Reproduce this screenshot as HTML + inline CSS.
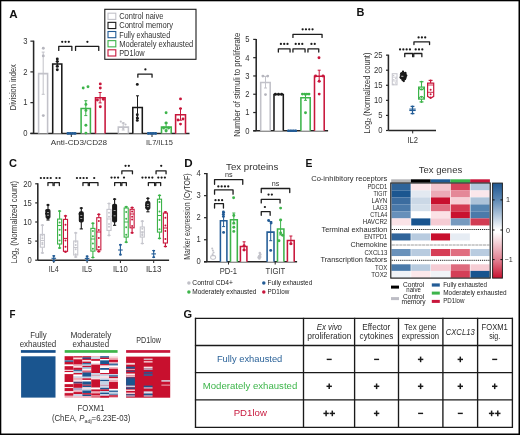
<!DOCTYPE html>
<html><head><meta charset="utf-8"><title>Figure</title>
<style>
html,body{margin:0;padding:0;background:#fff;}
body{width:520px;height:435px;overflow:hidden;}
svg{display:block;font-family:"Liberation Sans", sans-serif;will-change:transform;}
</style></head>
<body>
<svg width="520" height="435" viewBox="0 0 520 435">
<rect x="0.00" y="0.00" width="520.00" height="435.00" fill="#000" stroke="none" stroke-width="1.0" />
<rect x="1.30" y="1.30" width="517.20" height="432.20" fill="white" stroke="none" stroke-width="1.0" />
<text x="9.20" y="18.10" font-size="11.6" text-anchor="start" fill="#111" font-weight="bold" >A</text>
<text x="356.40" y="16.10" font-size="11.6" text-anchor="start" fill="#111" font-weight="bold" textLength="7.90" lengthAdjust="spacingAndGlyphs" >B</text>
<text x="9.00" y="167.40" font-size="11.6" text-anchor="start" fill="#111" font-weight="bold" textLength="8.00" lengthAdjust="spacingAndGlyphs" >C</text>
<text x="184.30" y="166.70" font-size="11.6" text-anchor="start" fill="#111" font-weight="bold" >D</text>
<text x="305.60" y="166.70" font-size="11.6" text-anchor="start" fill="#111" font-weight="bold" textLength="6.90" lengthAdjust="spacingAndGlyphs" >E</text>
<text x="9.40" y="317.90" font-size="11.6" text-anchor="start" fill="#111" font-weight="bold" textLength="6.00" lengthAdjust="spacingAndGlyphs" >F</text>
<text x="183.60" y="317.80" font-size="11.6" text-anchor="start" fill="#111" font-weight="bold" textLength="8.60" lengthAdjust="spacingAndGlyphs" >G</text>
<rect x="104.80" y="9.30" width="91.20" height="50.00" fill="none" stroke="#1a1a1a" stroke-width="1.1" />
<rect x="108.00" y="13.20" width="7.80" height="6.20" fill="none" stroke="#c2c2c9" stroke-width="1.1" />
<text x="119.20" y="19.20" font-size="8.2" text-anchor="start" fill="#333" font-weight="normal" textLength="44.30" lengthAdjust="spacingAndGlyphs" >Control naive</text>
<rect x="108.00" y="22.35" width="7.80" height="6.20" fill="none" stroke="#1a1a1a" stroke-width="1.1" />
<text x="119.20" y="28.35" font-size="8.2" text-anchor="start" fill="#333" font-weight="normal" textLength="53.90" lengthAdjust="spacingAndGlyphs" >Control memory</text>
<rect x="108.00" y="31.50" width="7.80" height="6.20" fill="none" stroke="#235c96" stroke-width="1.1" />
<text x="119.20" y="37.50" font-size="8.2" text-anchor="start" fill="#333" font-weight="normal" textLength="51.00" lengthAdjust="spacingAndGlyphs" >Fully exhausted</text>
<rect x="108.00" y="40.65" width="7.80" height="6.20" fill="none" stroke="#3db44a" stroke-width="1.1" />
<text x="119.20" y="46.65" font-size="8.2" text-anchor="start" fill="#333" font-weight="normal" textLength="74.10" lengthAdjust="spacingAndGlyphs" >Moderately exhausted</text>
<rect x="108.00" y="49.80" width="7.80" height="6.20" fill="none" stroke="#c8163b" stroke-width="1.1" />
<text x="119.20" y="55.80" font-size="8.2" text-anchor="start" fill="#333" font-weight="normal" textLength="25.40" lengthAdjust="spacingAndGlyphs" >PD1low</text>
<line x1="33.60" y1="40.65" x2="33.60" y2="133.40" stroke="#262626" stroke-width="1.55" />
<line x1="30.40" y1="133.40" x2="189.50" y2="133.40" stroke="#262626" stroke-width="1.55" />
<line x1="30.40" y1="133.40" x2="33.60" y2="133.40" stroke="#262626" stroke-width="1.2" />
<text x="27.40" y="136.00" font-size="8.8" text-anchor="end" fill="#333" font-weight="normal" textLength="4.25" lengthAdjust="spacingAndGlyphs" >0</text>
<line x1="30.40" y1="102.65" x2="33.60" y2="102.65" stroke="#262626" stroke-width="1.2" />
<text x="27.40" y="105.25" font-size="8.8" text-anchor="end" fill="#333" font-weight="normal" textLength="4.25" lengthAdjust="spacingAndGlyphs" >1</text>
<line x1="30.40" y1="71.90" x2="33.60" y2="71.90" stroke="#262626" stroke-width="1.2" />
<text x="27.40" y="74.50" font-size="8.8" text-anchor="end" fill="#333" font-weight="normal" textLength="4.25" lengthAdjust="spacingAndGlyphs" >2</text>
<line x1="30.40" y1="41.15" x2="33.60" y2="41.15" stroke="#262626" stroke-width="1.2" />
<text x="27.40" y="43.75" font-size="8.8" text-anchor="end" fill="#333" font-weight="normal" textLength="4.25" lengthAdjust="spacingAndGlyphs" >3</text>
<text transform="translate(13.10,87.20) rotate(-90)" x="0" y="3.01" font-size="8.6" text-anchor="middle" fill="#333" textLength="46.00" lengthAdjust="spacingAndGlyphs" >Division index</text>
<text x="79.00" y="145.40" font-size="8.0" text-anchor="middle" fill="#333" font-weight="normal" textLength="56.30" lengthAdjust="spacingAndGlyphs" >Anti-CD3/CD28</text>
<text x="159.40" y="145.40" font-size="8.0" text-anchor="middle" fill="#333" font-weight="normal" textLength="26.90" lengthAdjust="spacingAndGlyphs" >IL7/IL15</text>
<line x1="71.30" y1="133.40" x2="71.30" y2="137.00" stroke="#262626" stroke-width="1.0" />
<line x1="152.00" y1="133.40" x2="152.00" y2="137.00" stroke="#262626" stroke-width="1.0" />
<path d="M38.60,133.40 V73.60 H47.60 V133.40" fill="white" stroke="#c2c2c9" stroke-width="1.55"/>
<line x1="43.20" y1="52.10" x2="43.20" y2="94.30" stroke="#c2c2c9" stroke-width="1.0" />
<line x1="41.70" y1="52.10" x2="44.70" y2="52.10" stroke="#c2c2c9" stroke-width="1.0" />
<line x1="41.70" y1="94.30" x2="44.70" y2="94.30" stroke="#c2c2c9" stroke-width="1.0" />
<circle cx="43.30" cy="48.30" r="1.45" fill="#b6b6be"/>
<circle cx="43.30" cy="55.90" r="1.45" fill="#b6b6be"/>
<circle cx="43.30" cy="115.60" r="1.45" fill="#b6b6be"/>
<path d="M52.70,133.40 V63.90 H61.80 V133.40" fill="white" stroke="#1a1a1a" stroke-width="1.55"/>
<line x1="57.30" y1="61.60" x2="57.30" y2="66.20" stroke="#1a1a1a" stroke-width="1.0" />
<line x1="55.80" y1="61.60" x2="58.80" y2="61.60" stroke="#1a1a1a" stroke-width="1.0" />
<line x1="55.80" y1="66.20" x2="58.80" y2="66.20" stroke="#1a1a1a" stroke-width="1.0" />
<circle cx="57.30" cy="58.90" r="1.45" fill="#1a1a1a"/>
<circle cx="57.30" cy="61.40" r="1.45" fill="#1a1a1a"/>
<circle cx="57.30" cy="66.40" r="1.45" fill="#1a1a1a"/>
<circle cx="57.30" cy="69.70" r="1.45" fill="#1a1a1a"/>
<line x1="66.70" y1="133.40" x2="76.40" y2="133.40" stroke="#235c96" stroke-width="2.0" />
<circle cx="68.00" cy="133.40" r="1.3" fill="#235c96"/>
<circle cx="70.30" cy="133.40" r="1.3" fill="#235c96"/>
<circle cx="72.60" cy="133.40" r="1.3" fill="#235c96"/>
<circle cx="74.90" cy="133.40" r="1.3" fill="#235c96"/>
<path d="M81.10,133.40 V108.50 H90.40 V133.40" fill="white" stroke="#3db44a" stroke-width="1.55"/>
<line x1="85.80" y1="100.70" x2="85.80" y2="115.60" stroke="#3db44a" stroke-width="1.0" />
<line x1="84.30" y1="100.70" x2="87.30" y2="100.70" stroke="#3db44a" stroke-width="1.0" />
<line x1="84.30" y1="115.60" x2="87.30" y2="115.60" stroke="#3db44a" stroke-width="1.0" />
<circle cx="83.20" cy="88.00" r="1.45" fill="#3db44a"/>
<circle cx="88.00" cy="86.80" r="1.45" fill="#3db44a"/>
<circle cx="85.90" cy="104.40" r="1.45" fill="#3db44a"/>
<circle cx="85.90" cy="110.40" r="1.45" fill="#3db44a"/>
<circle cx="85.90" cy="125.30" r="1.45" fill="#3db44a"/>
<circle cx="85.90" cy="133.10" r="1.45" fill="#3db44a"/>
<path d="M95.50,133.40 V97.70 H105.10 V133.40" fill="white" stroke="#c8163b" stroke-width="1.55"/>
<line x1="100.10" y1="92.50" x2="100.10" y2="102.90" stroke="#c8163b" stroke-width="1.0" />
<line x1="98.60" y1="92.50" x2="101.60" y2="92.50" stroke="#c8163b" stroke-width="1.0" />
<line x1="98.60" y1="102.90" x2="101.60" y2="102.90" stroke="#c8163b" stroke-width="1.0" />
<circle cx="100.30" cy="83.90" r="1.45" fill="#c8163b"/>
<circle cx="100.30" cy="88.00" r="1.45" fill="#c8163b"/>
<circle cx="97.40" cy="100.00" r="1.45" fill="#c8163b"/>
<circle cx="103.30" cy="99.20" r="1.45" fill="#c8163b"/>
<circle cx="100.30" cy="106.70" r="1.45" fill="#c8163b"/>
<path d="M118.30,133.40 V127.10 H128.40 V133.40" fill="white" stroke="#c2c2c9" stroke-width="1.55"/>
<line x1="123.20" y1="123.00" x2="123.20" y2="130.00" stroke="#c2c2c9" stroke-width="1.0" />
<line x1="121.70" y1="123.00" x2="124.70" y2="123.00" stroke="#c2c2c9" stroke-width="1.0" />
<line x1="121.70" y1="130.00" x2="124.70" y2="130.00" stroke="#c2c2c9" stroke-width="1.0" />
<circle cx="120.80" cy="121.60" r="1.1" fill="#c2c2c9"/>
<circle cx="123.30" cy="123.00" r="1.1" fill="#c2c2c9"/>
<circle cx="125.50" cy="124.50" r="1.1" fill="#c2c2c9"/>
<circle cx="123.30" cy="128.50" r="1.1" fill="#c2c2c9"/>
<path d="M132.80,133.40 V107.40 H142.30 V133.40" fill="white" stroke="#1a1a1a" stroke-width="1.55"/>
<line x1="137.50" y1="95.80" x2="137.50" y2="118.40" stroke="#1a1a1a" stroke-width="1.0" />
<line x1="136.00" y1="95.80" x2="139.00" y2="95.80" stroke="#1a1a1a" stroke-width="1.0" />
<line x1="136.00" y1="118.40" x2="139.00" y2="118.40" stroke="#1a1a1a" stroke-width="1.0" />
<circle cx="137.30" cy="84.40" r="1.45" fill="#1a1a1a"/>
<circle cx="137.30" cy="114.80" r="1.45" fill="#1a1a1a"/>
<circle cx="137.30" cy="117.90" r="1.45" fill="#1a1a1a"/>
<circle cx="137.30" cy="120.40" r="1.45" fill="#1a1a1a"/>
<line x1="147.00" y1="133.40" x2="157.00" y2="133.40" stroke="#235c96" stroke-width="2.0" />
<circle cx="148.50" cy="133.40" r="1.3" fill="#235c96"/>
<circle cx="150.80" cy="133.40" r="1.3" fill="#235c96"/>
<circle cx="153.10" cy="133.40" r="1.3" fill="#235c96"/>
<circle cx="155.40" cy="133.40" r="1.3" fill="#235c96"/>
<path d="M161.50,133.40 V127.10 H171.20 V133.40" fill="white" stroke="#3db44a" stroke-width="1.55"/>
<line x1="166.10" y1="123.00" x2="166.10" y2="130.00" stroke="#3db44a" stroke-width="1.0" />
<line x1="164.60" y1="123.00" x2="167.60" y2="123.00" stroke="#3db44a" stroke-width="1.0" />
<line x1="164.60" y1="130.00" x2="167.60" y2="130.00" stroke="#3db44a" stroke-width="1.0" />
<circle cx="166.10" cy="112.70" r="1.45" fill="#3db44a"/>
<circle cx="166.10" cy="123.00" r="1.45" fill="#3db44a"/>
<circle cx="163.60" cy="128.00" r="1.45" fill="#3db44a"/>
<circle cx="168.60" cy="128.00" r="1.45" fill="#3db44a"/>
<circle cx="166.10" cy="131.00" r="1.45" fill="#3db44a"/>
<path d="M175.60,133.40 V114.70 H185.50 V133.40" fill="white" stroke="#c8163b" stroke-width="1.55"/>
<line x1="180.50" y1="108.60" x2="180.50" y2="120.20" stroke="#c8163b" stroke-width="1.0" />
<line x1="179.00" y1="108.60" x2="182.00" y2="108.60" stroke="#c8163b" stroke-width="1.0" />
<line x1="179.00" y1="120.20" x2="182.00" y2="120.20" stroke="#c8163b" stroke-width="1.0" />
<circle cx="180.50" cy="98.90" r="1.45" fill="#c8163b"/>
<circle cx="180.50" cy="108.60" r="1.45" fill="#c8163b"/>
<circle cx="178.00" cy="120.00" r="1.45" fill="#c8163b"/>
<circle cx="183.00" cy="119.00" r="1.45" fill="#c8163b"/>
<circle cx="180.50" cy="124.10" r="1.45" fill="#c8163b"/>
<path d="M58.75,50.40 V46.30 H71.85 V50.40" fill="none" stroke="#1e1e1e" stroke-width="1.3" stroke-linejoin="round" stroke-linecap="round"/>
<circle cx="62.20" cy="41.80" r="1.12" fill="#1a1a1a"/>
<circle cx="65.50" cy="41.80" r="1.12" fill="#1a1a1a"/>
<circle cx="68.80" cy="41.80" r="1.12" fill="#1a1a1a"/>
<path d="M75.55,50.40 V46.30 H98.75 V50.40" fill="none" stroke="#1e1e1e" stroke-width="1.3" stroke-linejoin="round" stroke-linecap="round"/>
<circle cx="87.40" cy="41.80" r="1.12" fill="#1a1a1a"/>
<path d="M137.85,77.20 V74.20 H152.05 V77.20" fill="none" stroke="#1e1e1e" stroke-width="1.3" stroke-linejoin="round" stroke-linecap="round"/>
<circle cx="145.40" cy="69.40" r="1.12" fill="#1a1a1a"/>
<line x1="256.20" y1="38.90" x2="256.20" y2="130.80" stroke="#262626" stroke-width="1.55" />
<line x1="253.20" y1="130.80" x2="328.10" y2="130.80" stroke="#262626" stroke-width="1.55" />
<line x1="253.20" y1="130.80" x2="256.20" y2="130.80" stroke="#262626" stroke-width="1.2" />
<text x="249.50" y="133.65" font-size="8.8" text-anchor="end" fill="#333" font-weight="normal" textLength="4.25" lengthAdjust="spacingAndGlyphs" >0</text>
<line x1="253.20" y1="112.52" x2="256.20" y2="112.52" stroke="#262626" stroke-width="1.2" />
<text x="249.50" y="115.37" font-size="8.8" text-anchor="end" fill="#333" font-weight="normal" textLength="4.25" lengthAdjust="spacingAndGlyphs" >1</text>
<line x1="253.20" y1="94.24" x2="256.20" y2="94.24" stroke="#262626" stroke-width="1.2" />
<text x="249.50" y="97.09" font-size="8.8" text-anchor="end" fill="#333" font-weight="normal" textLength="4.25" lengthAdjust="spacingAndGlyphs" >2</text>
<line x1="253.20" y1="75.96" x2="256.20" y2="75.96" stroke="#262626" stroke-width="1.2" />
<text x="249.50" y="78.81" font-size="8.8" text-anchor="end" fill="#333" font-weight="normal" textLength="4.25" lengthAdjust="spacingAndGlyphs" >3</text>
<line x1="253.20" y1="57.68" x2="256.20" y2="57.68" stroke="#262626" stroke-width="1.2" />
<text x="249.50" y="60.53" font-size="8.8" text-anchor="end" fill="#333" font-weight="normal" textLength="4.25" lengthAdjust="spacingAndGlyphs" >4</text>
<line x1="253.20" y1="39.40" x2="256.20" y2="39.40" stroke="#262626" stroke-width="1.2" />
<text x="249.50" y="42.25" font-size="8.8" text-anchor="end" fill="#333" font-weight="normal" textLength="4.25" lengthAdjust="spacingAndGlyphs" >5</text>
<text transform="translate(236.50,84.80) rotate(-90)" x="0" y="3.01" font-size="8.6" text-anchor="middle" fill="#333" textLength="104.00" lengthAdjust="spacingAndGlyphs" >Number of stimuli to proliferate</text>
<path d="M260.70,130.80 V82.40 H270.20 V130.80" fill="white" stroke="#c2c2c9" stroke-width="1.55"/>
<line x1="265.50" y1="76.40" x2="265.50" y2="88.00" stroke="#c2c2c9" stroke-width="1.0" />
<line x1="264.00" y1="76.40" x2="267.00" y2="76.40" stroke="#c2c2c9" stroke-width="1.0" />
<line x1="264.00" y1="88.00" x2="267.00" y2="88.00" stroke="#c2c2c9" stroke-width="1.0" />
<circle cx="262.90" cy="76.10" r="1.45" fill="#b6b6be"/>
<circle cx="267.70" cy="76.10" r="1.45" fill="#b6b6be"/>
<circle cx="265.50" cy="94.60" r="1.45" fill="#b6b6be"/>
<path d="M274.00,130.80 V94.40 H283.30 V130.80" fill="white" stroke="#1a1a1a" stroke-width="1.55"/>
<circle cx="275.40" cy="94.30" r="1.45" fill="#1a1a1a"/>
<circle cx="278.50" cy="94.30" r="1.45" fill="#1a1a1a"/>
<circle cx="281.60" cy="94.30" r="1.45" fill="#1a1a1a"/>
<line x1="287.30" y1="130.80" x2="297.00" y2="130.80" stroke="#235c96" stroke-width="2.0" />
<circle cx="288.60" cy="130.80" r="1.3" fill="#235c96"/>
<circle cx="290.90" cy="130.80" r="1.3" fill="#235c96"/>
<circle cx="293.20" cy="130.80" r="1.3" fill="#235c96"/>
<circle cx="295.50" cy="130.80" r="1.3" fill="#235c96"/>
<path d="M300.90,130.80 V97.70 H310.20 V130.80" fill="white" stroke="#3db44a" stroke-width="1.55"/>
<line x1="305.50" y1="94.10" x2="305.50" y2="100.30" stroke="#3db44a" stroke-width="1.0" />
<line x1="304.00" y1="94.10" x2="307.00" y2="94.10" stroke="#3db44a" stroke-width="1.0" />
<line x1="304.00" y1="100.30" x2="307.00" y2="100.30" stroke="#3db44a" stroke-width="1.0" />
<circle cx="302.40" cy="94.10" r="1.45" fill="#3db44a"/>
<circle cx="304.60" cy="94.10" r="1.45" fill="#3db44a"/>
<circle cx="306.80" cy="94.10" r="1.45" fill="#3db44a"/>
<circle cx="309.00" cy="94.10" r="1.45" fill="#3db44a"/>
<circle cx="305.50" cy="112.70" r="1.45" fill="#3db44a"/>
<path d="M314.50,130.80 V76.30 H324.20 V130.80" fill="white" stroke="#c8163b" stroke-width="1.55"/>
<line x1="319.20" y1="70.20" x2="319.20" y2="81.60" stroke="#c8163b" stroke-width="1.0" />
<line x1="317.70" y1="70.20" x2="320.70" y2="70.20" stroke="#c8163b" stroke-width="1.0" />
<line x1="317.70" y1="81.60" x2="320.70" y2="81.60" stroke="#c8163b" stroke-width="1.0" />
<circle cx="319.00" cy="57.80" r="1.45" fill="#c8163b"/>
<circle cx="319.20" cy="94.10" r="1.45" fill="#c8163b"/>
<circle cx="315.60" cy="76.00" r="1.45" fill="#c8163b"/>
<circle cx="323.00" cy="76.00" r="1.45" fill="#c8163b"/>
<circle cx="319.20" cy="81.30" r="1.45" fill="#c8163b"/>
<path d="M292.95,37.40 V34.30 H322.05 V37.40" fill="none" stroke="#1e1e1e" stroke-width="1.3" stroke-linejoin="round" stroke-linecap="round"/>
<circle cx="302.65" cy="29.30" r="1.12" fill="#1a1a1a"/>
<circle cx="305.95" cy="29.30" r="1.12" fill="#1a1a1a"/>
<circle cx="309.25" cy="29.30" r="1.12" fill="#1a1a1a"/>
<circle cx="312.55" cy="29.30" r="1.12" fill="#1a1a1a"/>
<path d="M278.35,52.10 V48.80 H290.05 V52.10" fill="none" stroke="#1e1e1e" stroke-width="1.3" stroke-linejoin="round" stroke-linecap="round"/>
<path d="M292.95,52.10 V48.80 H305.05 V52.10" fill="none" stroke="#1e1e1e" stroke-width="1.3" stroke-linejoin="round" stroke-linecap="round"/>
<path d="M307.95,52.10 V48.80 H318.75 V52.10" fill="none" stroke="#1e1e1e" stroke-width="1.3" stroke-linejoin="round" stroke-linecap="round"/>
<circle cx="280.90" cy="43.90" r="1.12" fill="#1a1a1a"/>
<circle cx="284.20" cy="43.90" r="1.12" fill="#1a1a1a"/>
<circle cx="287.50" cy="43.90" r="1.12" fill="#1a1a1a"/>
<circle cx="295.70" cy="43.90" r="1.12" fill="#1a1a1a"/>
<circle cx="299.00" cy="43.90" r="1.12" fill="#1a1a1a"/>
<circle cx="302.30" cy="43.90" r="1.12" fill="#1a1a1a"/>
<circle cx="311.45" cy="43.90" r="1.12" fill="#1a1a1a"/>
<circle cx="314.75" cy="43.90" r="1.12" fill="#1a1a1a"/>
<line x1="388.40" y1="54.65" x2="388.40" y2="130.50" stroke="#262626" stroke-width="1.55" />
<line x1="388.40" y1="130.50" x2="436.00" y2="130.50" stroke="#262626" stroke-width="1.55" />
<line x1="386.00" y1="130.50" x2="388.40" y2="130.50" stroke="#262626" stroke-width="1.2" />
<text x="382.40" y="133.35" font-size="8.8" text-anchor="end" fill="#333" font-weight="normal" textLength="4.25" lengthAdjust="spacingAndGlyphs" >0</text>
<line x1="386.00" y1="115.43" x2="388.40" y2="115.43" stroke="#262626" stroke-width="1.2" />
<text x="382.40" y="118.28" font-size="8.8" text-anchor="end" fill="#333" font-weight="normal" textLength="4.25" lengthAdjust="spacingAndGlyphs" >5</text>
<line x1="386.00" y1="100.36" x2="388.40" y2="100.36" stroke="#262626" stroke-width="1.2" />
<text x="382.40" y="103.21" font-size="8.8" text-anchor="end" fill="#333" font-weight="normal" textLength="8.50" lengthAdjust="spacingAndGlyphs" >10</text>
<line x1="386.00" y1="85.29" x2="388.40" y2="85.29" stroke="#262626" stroke-width="1.2" />
<text x="382.40" y="88.14" font-size="8.8" text-anchor="end" fill="#333" font-weight="normal" textLength="8.50" lengthAdjust="spacingAndGlyphs" >15</text>
<line x1="386.00" y1="70.22" x2="388.40" y2="70.22" stroke="#262626" stroke-width="1.2" />
<text x="382.40" y="73.07" font-size="8.8" text-anchor="end" fill="#333" font-weight="normal" textLength="8.50" lengthAdjust="spacingAndGlyphs" >20</text>
<line x1="386.00" y1="55.15" x2="388.40" y2="55.15" stroke="#262626" stroke-width="1.2" />
<text x="382.40" y="58.00" font-size="8.8" text-anchor="end" fill="#333" font-weight="normal" textLength="8.50" lengthAdjust="spacingAndGlyphs" >25</text>
<line x1="412.70" y1="130.50" x2="412.70" y2="133.40" stroke="#262626" stroke-width="1.0" />
<text x="412.70" y="142.50" font-size="8.4" text-anchor="middle" fill="#333" font-weight="normal" textLength="10.60" lengthAdjust="spacingAndGlyphs" >IL2</text>
<text transform="translate(366.8,93.0) rotate(-90)" x="0" y="2.9" font-size="8.2" text-anchor="middle" fill="#333" textLength="80.8" lengthAdjust="spacingAndGlyphs">Log<tspan font-size="5.5" dy="1.6">2</tspan><tspan dy="-1.6"> (Normalized count)</tspan></text>
<rect x="392.30" y="73.70" width="4.70" height="11.10" fill="none" stroke="#c8c8cf" stroke-width="1.1" />
<line x1="392.30" y1="77.20" x2="397.00" y2="77.20" stroke="#c8c8cf" stroke-width="0.8" />
<line x1="392.30" y1="81.00" x2="397.00" y2="81.00" stroke="#c8c8cf" stroke-width="0.8" />
<circle cx="393.60" cy="75.50" r="0.8" fill="#c8c8cf"/>
<circle cx="395.80" cy="78.60" r="0.8" fill="#c8c8cf"/>
<circle cx="393.80" cy="79.80" r="0.8" fill="#c8c8cf"/>
<circle cx="395.50" cy="83.00" r="0.8" fill="#c8c8cf"/>
<circle cx="393.20" cy="84.40" r="0.8" fill="#c8c8cf"/>
<rect x="400.40" y="72.60" width="5.80" height="6.80" fill="#1a1a1a" stroke="#1a1a1a" stroke-width="1.0" rx="1.8"/>
<circle cx="403.00" cy="71.60" r="1.15" fill="#1a1a1a"/>
<circle cx="401.40" cy="73.30" r="1.15" fill="#1a1a1a"/>
<circle cx="405.40" cy="73.00" r="1.15" fill="#1a1a1a"/>
<circle cx="406.30" cy="75.60" r="1.15" fill="#1a1a1a"/>
<circle cx="400.60" cy="77.40" r="1.15" fill="#1a1a1a"/>
<circle cx="402.60" cy="80.10" r="1.15" fill="#1a1a1a"/>
<circle cx="403.80" cy="81.00" r="1.15" fill="#1a1a1a"/>
<circle cx="405.00" cy="79.00" r="1.15" fill="#1a1a1a"/>
<line x1="401.20" y1="76.30" x2="403.40" y2="76.30" stroke="#ffffff" stroke-width="0.7" />
<line x1="412.50" y1="106.40" x2="412.50" y2="113.60" stroke="#235c96" stroke-width="1.2" />
<line x1="410.60" y1="106.40" x2="414.40" y2="106.40" stroke="#235c96" stroke-width="1.2" />
<line x1="410.60" y1="113.60" x2="414.40" y2="113.60" stroke="#235c96" stroke-width="1.2" />
<line x1="409.30" y1="109.10" x2="415.70" y2="109.10" stroke="#235c96" stroke-width="1.1" />
<line x1="409.30" y1="110.50" x2="415.70" y2="110.50" stroke="#235c96" stroke-width="1.1" />
<circle cx="412.50" cy="106.60" r="1.0" fill="#235c96"/>
<circle cx="412.50" cy="113.60" r="1.0" fill="#235c96"/>
<line x1="421.50" y1="81.70" x2="421.50" y2="101.90" stroke="#3db44a" stroke-width="1.1" />
<line x1="419.50" y1="81.70" x2="423.50" y2="81.70" stroke="#3db44a" stroke-width="1.1" />
<line x1="419.50" y1="101.90" x2="423.50" y2="101.90" stroke="#3db44a" stroke-width="1.1" />
<circle cx="421.50" cy="81.70" r="1.0" fill="#3db44a"/>
<circle cx="421.50" cy="101.90" r="1.0" fill="#3db44a"/>
<rect x="418.60" y="87.10" width="5.80" height="12.00" fill="white" stroke="#3db44a" stroke-width="1.2" />
<path d="M418.8,87.6 Q421.5,92.2 424.2,87.6" fill="none" stroke="#3db44a" stroke-width="1.1"/>
<path d="M418.8,98.6 Q421.5,94.0 424.2,98.6" fill="none" stroke="#3db44a" stroke-width="1.1"/>
<circle cx="421.50" cy="89.20" r="0.9" fill="#3db44a"/>
<circle cx="421.50" cy="97.00" r="0.9" fill="#3db44a"/>
<line x1="430.60" y1="80.40" x2="430.60" y2="83.10" stroke="#c8163b" stroke-width="1.1" />
<line x1="428.60" y1="80.40" x2="432.60" y2="80.40" stroke="#c8163b" stroke-width="1.1" />
<circle cx="430.60" cy="80.40" r="1.0" fill="#c8163b"/>
<path d="M427.6,83.1 H433.7 V96.3 L430.65,98.2 L427.6,96.3 Z" fill="white" stroke="#c8163b" stroke-width="1.2"/>
<line x1="427.60" y1="85.00" x2="433.70" y2="85.00" stroke="#c8163b" stroke-width="0.9" />
<line x1="427.60" y1="92.30" x2="433.70" y2="92.30" stroke="#c8163b" stroke-width="0.9" />
<circle cx="430.60" cy="89.80" r="1.0" fill="#c8163b"/>
<circle cx="430.60" cy="94.30" r="1.0" fill="#c8163b"/>
<circle cx="430.60" cy="97.60" r="1.0" fill="#c8163b"/>
<path d="M404.75,56.70 V53.50 H412.65 V56.70" fill="none" stroke="#1e1e1e" stroke-width="1.3" stroke-linejoin="round" stroke-linecap="round"/>
<path d="M413.75,56.70 V53.50 H421.85 V56.70" fill="none" stroke="#1e1e1e" stroke-width="1.3" stroke-linejoin="round" stroke-linecap="round"/>
<circle cx="400.05" cy="49.40" r="1.12" fill="#1a1a1a"/>
<circle cx="403.35" cy="49.40" r="1.12" fill="#1a1a1a"/>
<circle cx="406.65" cy="49.40" r="1.12" fill="#1a1a1a"/>
<circle cx="409.95" cy="49.40" r="1.12" fill="#1a1a1a"/>
<circle cx="415.70" cy="49.40" r="1.12" fill="#1a1a1a"/>
<circle cx="419.00" cy="49.40" r="1.12" fill="#1a1a1a"/>
<circle cx="422.30" cy="49.40" r="1.12" fill="#1a1a1a"/>
<path d="M413.95,44.60 V41.80 H429.55 V44.60" fill="none" stroke="#1e1e1e" stroke-width="1.3" stroke-linejoin="round" stroke-linecap="round"/>
<circle cx="418.60" cy="37.40" r="1.12" fill="#1a1a1a"/>
<circle cx="421.90" cy="37.40" r="1.12" fill="#1a1a1a"/>
<circle cx="425.20" cy="37.40" r="1.12" fill="#1a1a1a"/>
<line x1="37.80" y1="183.30" x2="37.80" y2="260.20" stroke="#262626" stroke-width="1.55" />
<line x1="37.80" y1="260.20" x2="169.10" y2="260.20" stroke="#262626" stroke-width="1.55" />
<line x1="35.20" y1="260.20" x2="37.80" y2="260.20" stroke="#262626" stroke-width="1.2" />
<text x="31.70" y="263.05" font-size="8.8" text-anchor="end" fill="#333" font-weight="normal" textLength="4.25" lengthAdjust="spacingAndGlyphs" >0</text>
<line x1="35.20" y1="241.10" x2="37.80" y2="241.10" stroke="#262626" stroke-width="1.2" />
<text x="31.70" y="243.95" font-size="8.8" text-anchor="end" fill="#333" font-weight="normal" textLength="4.25" lengthAdjust="spacingAndGlyphs" >5</text>
<line x1="35.20" y1="222.00" x2="37.80" y2="222.00" stroke="#262626" stroke-width="1.2" />
<text x="31.70" y="224.85" font-size="8.8" text-anchor="end" fill="#333" font-weight="normal" textLength="8.50" lengthAdjust="spacingAndGlyphs" >10</text>
<line x1="35.20" y1="202.90" x2="37.80" y2="202.90" stroke="#262626" stroke-width="1.2" />
<text x="31.70" y="205.75" font-size="8.8" text-anchor="end" fill="#333" font-weight="normal" textLength="8.50" lengthAdjust="spacingAndGlyphs" >15</text>
<line x1="35.20" y1="183.80" x2="37.80" y2="183.80" stroke="#262626" stroke-width="1.2" />
<text x="31.70" y="186.65" font-size="8.8" text-anchor="end" fill="#333" font-weight="normal" textLength="8.50" lengthAdjust="spacingAndGlyphs" >20</text>
<text transform="translate(14.2,222.3) rotate(-90)" x="0" y="2.9" font-size="8.3" text-anchor="middle" fill="#333" textLength="82.5" lengthAdjust="spacingAndGlyphs">Log<tspan font-size="5.5" dy="1.6">2</tspan><tspan dy="-1.6"> (Normalized count)</tspan></text>
<line x1="53.80" y1="260.20" x2="53.80" y2="263.00" stroke="#262626" stroke-width="1.0" />
<text x="53.80" y="272.20" font-size="8.2" text-anchor="middle" fill="#333" font-weight="normal" textLength="10.00" lengthAdjust="spacingAndGlyphs" >IL4</text>
<line x1="87.10" y1="260.20" x2="87.10" y2="263.00" stroke="#262626" stroke-width="1.0" />
<text x="87.10" y="272.20" font-size="8.2" text-anchor="middle" fill="#333" font-weight="normal" textLength="10.00" lengthAdjust="spacingAndGlyphs" >IL5</text>
<line x1="120.40" y1="260.20" x2="120.40" y2="263.00" stroke="#262626" stroke-width="1.0" />
<text x="120.40" y="272.20" font-size="8.2" text-anchor="middle" fill="#333" font-weight="normal" textLength="14.80" lengthAdjust="spacingAndGlyphs" >IL10</text>
<line x1="153.70" y1="260.20" x2="153.70" y2="263.00" stroke="#262626" stroke-width="1.0" />
<text x="153.70" y="272.20" font-size="8.2" text-anchor="middle" fill="#333" font-weight="normal" textLength="15.60" lengthAdjust="spacingAndGlyphs" >IL13</text>
<line x1="42.40" y1="225.20" x2="42.40" y2="234.40" stroke="#c6c6cd" stroke-width="1.1" />
<line x1="42.40" y1="247.20" x2="42.40" y2="252.90" stroke="#c6c6cd" stroke-width="1.1" />
<line x1="40.80" y1="225.20" x2="44.00" y2="225.20" stroke="#c6c6cd" stroke-width="1.1" />
<line x1="40.80" y1="252.90" x2="44.00" y2="252.90" stroke="#c6c6cd" stroke-width="1.1" />
<rect x="40.35" y="234.40" width="4.10" height="12.80" fill="white" stroke="#c6c6cd" stroke-width="1.1" />
<line x1="40.35" y1="240.50" x2="44.45" y2="240.50" stroke="#c6c6cd" stroke-width="1.0" />
<circle cx="42.40" cy="235.47" r="1.0" fill="#c6c6cd"/>
<circle cx="42.40" cy="238.15" r="1.0" fill="#c6c6cd"/>
<circle cx="42.40" cy="242.85" r="1.0" fill="#c6c6cd"/>
<circle cx="42.40" cy="244.32" r="1.0" fill="#c6c6cd"/>
<circle cx="42.40" cy="225.20" r="1.1" fill="#c6c6cd"/>
<circle cx="42.40" cy="252.90" r="1.1" fill="#c6c6cd"/>
<line x1="48.00" y1="205.00" x2="48.00" y2="209.50" stroke="#1a1a1a" stroke-width="1.1" />
<line x1="48.00" y1="218.30" x2="48.00" y2="220.00" stroke="#1a1a1a" stroke-width="1.1" />
<line x1="46.40" y1="205.00" x2="49.60" y2="205.00" stroke="#1a1a1a" stroke-width="1.1" />
<line x1="46.40" y1="220.00" x2="49.60" y2="220.00" stroke="#1a1a1a" stroke-width="1.1" />
<rect x="46.10" y="209.50" width="3.80" height="8.80" fill="#1a1a1a" stroke="#1a1a1a" stroke-width="1.2" rx="1.2"/>
<circle cx="48.13" cy="212.72" r="1.15" fill="#1a1a1a"/>
<circle cx="46.41" cy="213.97" r="1.15" fill="#1a1a1a"/>
<circle cx="46.33" cy="213.32" r="1.15" fill="#1a1a1a"/>
<circle cx="46.45" cy="210.30" r="1.15" fill="#1a1a1a"/>
<circle cx="47.73" cy="216.78" r="1.15" fill="#1a1a1a"/>
<circle cx="46.65" cy="211.46" r="1.15" fill="#1a1a1a"/>
<circle cx="48.00" cy="205.00" r="1.15" fill="#1a1a1a"/>
<line x1="47.00" y1="212.58" x2="49.00" y2="212.58" stroke="#ffffff" stroke-width="0.6" />
<line x1="47.00" y1="215.22" x2="49.00" y2="215.22" stroke="#ffffff" stroke-width="0.6" />
<line x1="53.80" y1="255.80" x2="53.80" y2="261.00" stroke="#235c96" stroke-width="1.1" />
<line x1="52.40" y1="255.80" x2="55.20" y2="255.80" stroke="#235c96" stroke-width="1.0" />
<line x1="52.40" y1="261.00" x2="55.20" y2="261.00" stroke="#235c96" stroke-width="1.0" />
<line x1="51.50" y1="258.30" x2="56.10" y2="258.30" stroke="#235c96" stroke-width="1.1" />
<circle cx="53.80" cy="256.10" r="1.15" fill="#235c96"/>
<circle cx="53.80" cy="260.70" r="1.15" fill="#235c96"/>
<line x1="59.60" y1="211.10" x2="59.60" y2="219.10" stroke="#3db44a" stroke-width="1.1" />
<line x1="59.60" y1="244.00" x2="59.60" y2="248.00" stroke="#3db44a" stroke-width="1.1" />
<line x1="58.00" y1="211.10" x2="61.20" y2="211.10" stroke="#3db44a" stroke-width="1.1" />
<line x1="58.00" y1="248.00" x2="61.20" y2="248.00" stroke="#3db44a" stroke-width="1.1" />
<rect x="57.55" y="219.10" width="4.10" height="24.90" fill="white" stroke="#3db44a" stroke-width="1.1" />
<line x1="57.55" y1="225.50" x2="61.65" y2="225.50" stroke="#3db44a" stroke-width="1.0" />
<circle cx="59.60" cy="222.59" r="1.0" fill="#3db44a"/>
<circle cx="59.60" cy="229.78" r="1.0" fill="#3db44a"/>
<circle cx="59.60" cy="234.89" r="1.0" fill="#3db44a"/>
<circle cx="59.60" cy="240.58" r="1.0" fill="#3db44a"/>
<circle cx="59.60" cy="211.10" r="1.1" fill="#3db44a"/>
<circle cx="59.60" cy="248.00" r="1.1" fill="#3db44a"/>
<line x1="65.50" y1="215.90" x2="65.50" y2="219.40" stroke="#c8163b" stroke-width="1.1" />
<line x1="65.50" y1="251.30" x2="65.50" y2="251.80" stroke="#c8163b" stroke-width="1.1" />
<line x1="63.90" y1="215.90" x2="67.10" y2="215.90" stroke="#c8163b" stroke-width="1.1" />
<line x1="63.90" y1="251.80" x2="67.10" y2="251.80" stroke="#c8163b" stroke-width="1.1" />
<rect x="63.45" y="219.40" width="4.10" height="31.90" fill="white" stroke="#c8163b" stroke-width="1.1" />
<line x1="63.45" y1="238.40" x2="67.55" y2="238.40" stroke="#c8163b" stroke-width="1.0" />
<circle cx="65.50" cy="224.82" r="1.0" fill="#c8163b"/>
<circle cx="65.50" cy="230.00" r="1.0" fill="#c8163b"/>
<circle cx="65.50" cy="240.41" r="1.0" fill="#c8163b"/>
<circle cx="65.50" cy="246.68" r="1.0" fill="#c8163b"/>
<circle cx="65.50" cy="215.90" r="1.1" fill="#c8163b"/>
<circle cx="65.50" cy="251.80" r="1.1" fill="#c8163b"/>
<line x1="75.70" y1="232.90" x2="75.70" y2="241.00" stroke="#c6c6cd" stroke-width="1.1" />
<line x1="75.70" y1="255.00" x2="75.70" y2="257.00" stroke="#c6c6cd" stroke-width="1.1" />
<line x1="74.10" y1="232.90" x2="77.30" y2="232.90" stroke="#c6c6cd" stroke-width="1.1" />
<line x1="74.10" y1="257.00" x2="77.30" y2="257.00" stroke="#c6c6cd" stroke-width="1.1" />
<rect x="73.65" y="241.00" width="4.10" height="14.00" fill="white" stroke="#c6c6cd" stroke-width="1.1" />
<line x1="73.65" y1="247.50" x2="77.75" y2="247.50" stroke="#c6c6cd" stroke-width="1.0" />
<circle cx="75.70" cy="241.68" r="1.0" fill="#c6c6cd"/>
<circle cx="75.70" cy="245.10" r="1.0" fill="#c6c6cd"/>
<circle cx="75.70" cy="249.18" r="1.0" fill="#c6c6cd"/>
<circle cx="75.70" cy="254.20" r="1.0" fill="#c6c6cd"/>
<circle cx="75.70" cy="232.90" r="1.1" fill="#c6c6cd"/>
<circle cx="75.70" cy="257.00" r="1.1" fill="#c6c6cd"/>
<line x1="81.30" y1="208.10" x2="81.30" y2="211.90" stroke="#1a1a1a" stroke-width="1.1" />
<line x1="81.30" y1="222.00" x2="81.30" y2="228.90" stroke="#1a1a1a" stroke-width="1.1" />
<line x1="79.70" y1="208.10" x2="82.90" y2="208.10" stroke="#1a1a1a" stroke-width="1.1" />
<line x1="79.70" y1="228.90" x2="82.90" y2="228.90" stroke="#1a1a1a" stroke-width="1.1" />
<rect x="79.40" y="211.90" width="3.80" height="10.10" fill="#1a1a1a" stroke="#1a1a1a" stroke-width="1.2" rx="1.2"/>
<circle cx="80.15" cy="217.77" r="1.15" fill="#1a1a1a"/>
<circle cx="81.80" cy="215.66" r="1.15" fill="#1a1a1a"/>
<circle cx="81.47" cy="212.53" r="1.15" fill="#1a1a1a"/>
<circle cx="79.71" cy="213.98" r="1.15" fill="#1a1a1a"/>
<circle cx="81.95" cy="216.22" r="1.15" fill="#1a1a1a"/>
<circle cx="80.63" cy="217.81" r="1.15" fill="#1a1a1a"/>
<circle cx="81.30" cy="208.10" r="1.15" fill="#1a1a1a"/>
<line x1="80.30" y1="215.44" x2="82.30" y2="215.44" stroke="#ffffff" stroke-width="0.6" />
<line x1="80.30" y1="218.47" x2="82.30" y2="218.47" stroke="#ffffff" stroke-width="0.6" />
<line x1="87.10" y1="256.20" x2="87.10" y2="260.60" stroke="#235c96" stroke-width="1.1" />
<line x1="85.70" y1="256.20" x2="88.50" y2="256.20" stroke="#235c96" stroke-width="1.0" />
<line x1="85.70" y1="260.60" x2="88.50" y2="260.60" stroke="#235c96" stroke-width="1.0" />
<line x1="84.80" y1="258.40" x2="89.40" y2="258.40" stroke="#235c96" stroke-width="1.1" />
<circle cx="87.10" cy="256.50" r="1.15" fill="#235c96"/>
<circle cx="87.10" cy="260.30" r="1.15" fill="#235c96"/>
<line x1="92.90" y1="223.30" x2="92.90" y2="228.40" stroke="#3db44a" stroke-width="1.1" />
<line x1="92.90" y1="251.10" x2="92.90" y2="257.50" stroke="#3db44a" stroke-width="1.1" />
<line x1="91.30" y1="223.30" x2="94.50" y2="223.30" stroke="#3db44a" stroke-width="1.1" />
<line x1="91.30" y1="257.50" x2="94.50" y2="257.50" stroke="#3db44a" stroke-width="1.1" />
<rect x="90.85" y="228.40" width="4.10" height="22.70" fill="white" stroke="#3db44a" stroke-width="1.1" />
<line x1="90.85" y1="239.00" x2="94.95" y2="239.00" stroke="#3db44a" stroke-width="1.0" />
<circle cx="92.90" cy="231.10" r="1.0" fill="#3db44a"/>
<circle cx="92.90" cy="236.31" r="1.0" fill="#3db44a"/>
<circle cx="92.90" cy="243.47" r="1.0" fill="#3db44a"/>
<circle cx="92.90" cy="248.86" r="1.0" fill="#3db44a"/>
<circle cx="92.90" cy="223.30" r="1.1" fill="#3db44a"/>
<circle cx="92.90" cy="257.50" r="1.1" fill="#3db44a"/>
<line x1="98.80" y1="214.40" x2="98.80" y2="217.70" stroke="#c8163b" stroke-width="1.1" />
<line x1="98.80" y1="249.90" x2="98.80" y2="251.60" stroke="#c8163b" stroke-width="1.1" />
<line x1="97.20" y1="214.40" x2="100.40" y2="214.40" stroke="#c8163b" stroke-width="1.1" />
<line x1="97.20" y1="251.60" x2="100.40" y2="251.60" stroke="#c8163b" stroke-width="1.1" />
<rect x="96.75" y="217.70" width="4.10" height="32.20" fill="white" stroke="#c8163b" stroke-width="1.1" />
<line x1="96.75" y1="232.00" x2="100.85" y2="232.00" stroke="#c8163b" stroke-width="1.0" />
<circle cx="98.80" cy="220.96" r="1.0" fill="#c8163b"/>
<circle cx="98.80" cy="230.00" r="1.0" fill="#c8163b"/>
<circle cx="98.80" cy="237.90" r="1.0" fill="#c8163b"/>
<circle cx="98.80" cy="247.00" r="1.0" fill="#c8163b"/>
<circle cx="98.80" cy="214.40" r="1.1" fill="#c8163b"/>
<circle cx="98.80" cy="251.60" r="1.1" fill="#c8163b"/>
<line x1="109.00" y1="203.50" x2="109.00" y2="209.40" stroke="#c6c6cd" stroke-width="1.1" />
<line x1="109.00" y1="230.40" x2="109.00" y2="235.40" stroke="#c6c6cd" stroke-width="1.1" />
<line x1="107.40" y1="203.50" x2="110.60" y2="203.50" stroke="#c6c6cd" stroke-width="1.1" />
<line x1="107.40" y1="235.40" x2="110.60" y2="235.40" stroke="#c6c6cd" stroke-width="1.1" />
<rect x="106.95" y="209.40" width="4.10" height="21.00" fill="white" stroke="#c6c6cd" stroke-width="1.1" />
<line x1="106.95" y1="219.00" x2="111.05" y2="219.00" stroke="#c6c6cd" stroke-width="1.0" />
<circle cx="109.00" cy="212.71" r="1.0" fill="#c6c6cd"/>
<circle cx="109.00" cy="216.64" r="1.0" fill="#c6c6cd"/>
<circle cx="109.00" cy="223.97" r="1.0" fill="#c6c6cd"/>
<circle cx="109.00" cy="226.63" r="1.0" fill="#c6c6cd"/>
<circle cx="109.00" cy="203.50" r="1.1" fill="#c6c6cd"/>
<circle cx="109.00" cy="235.40" r="1.1" fill="#c6c6cd"/>
<line x1="114.60" y1="199.20" x2="114.60" y2="204.30" stroke="#1a1a1a" stroke-width="1.1" />
<line x1="114.60" y1="222.00" x2="114.60" y2="225.30" stroke="#1a1a1a" stroke-width="1.1" />
<line x1="113.00" y1="199.20" x2="116.20" y2="199.20" stroke="#1a1a1a" stroke-width="1.1" />
<line x1="113.00" y1="225.30" x2="116.20" y2="225.30" stroke="#1a1a1a" stroke-width="1.1" />
<rect x="112.70" y="204.30" width="3.80" height="17.70" fill="#1a1a1a" stroke="#1a1a1a" stroke-width="1.2" rx="1.2"/>
<circle cx="114.31" cy="217.70" r="1.15" fill="#1a1a1a"/>
<circle cx="113.35" cy="212.95" r="1.15" fill="#1a1a1a"/>
<circle cx="112.94" cy="216.13" r="1.15" fill="#1a1a1a"/>
<circle cx="115.55" cy="214.44" r="1.15" fill="#1a1a1a"/>
<circle cx="115.95" cy="209.85" r="1.15" fill="#1a1a1a"/>
<circle cx="115.30" cy="214.82" r="1.15" fill="#1a1a1a"/>
<circle cx="114.60" cy="199.20" r="1.15" fill="#1a1a1a"/>
<line x1="113.60" y1="210.50" x2="115.60" y2="210.50" stroke="#ffffff" stroke-width="0.6" />
<line x1="113.60" y1="215.81" x2="115.60" y2="215.81" stroke="#ffffff" stroke-width="0.6" />
<line x1="120.40" y1="244.70" x2="120.40" y2="254.80" stroke="#235c96" stroke-width="1.1" />
<line x1="119.00" y1="244.70" x2="121.80" y2="244.70" stroke="#235c96" stroke-width="1.0" />
<line x1="119.00" y1="254.80" x2="121.80" y2="254.80" stroke="#235c96" stroke-width="1.0" />
<line x1="118.10" y1="250.00" x2="122.70" y2="250.00" stroke="#235c96" stroke-width="1.1" />
<circle cx="120.40" cy="245.00" r="1.15" fill="#235c96"/>
<circle cx="120.40" cy="254.50" r="1.15" fill="#235c96"/>
<line x1="126.20" y1="206.80" x2="126.20" y2="208.00" stroke="#3db44a" stroke-width="1.1" />
<line x1="126.20" y1="237.10" x2="126.20" y2="242.20" stroke="#3db44a" stroke-width="1.1" />
<line x1="124.60" y1="206.80" x2="127.80" y2="206.80" stroke="#3db44a" stroke-width="1.1" />
<line x1="124.60" y1="242.20" x2="127.80" y2="242.20" stroke="#3db44a" stroke-width="1.1" />
<rect x="124.15" y="208.00" width="4.10" height="29.10" fill="white" stroke="#3db44a" stroke-width="1.1" />
<line x1="124.15" y1="222.00" x2="128.25" y2="222.00" stroke="#3db44a" stroke-width="1.0" />
<circle cx="126.20" cy="211.88" r="1.0" fill="#3db44a"/>
<circle cx="126.20" cy="218.78" r="1.0" fill="#3db44a"/>
<circle cx="126.20" cy="227.21" r="1.0" fill="#3db44a"/>
<circle cx="126.20" cy="234.80" r="1.0" fill="#3db44a"/>
<circle cx="126.20" cy="206.80" r="1.1" fill="#3db44a"/>
<circle cx="126.20" cy="242.20" r="1.1" fill="#3db44a"/>
<line x1="132.10" y1="207.50" x2="132.10" y2="209.30" stroke="#c8163b" stroke-width="1.1" />
<line x1="132.10" y1="227.80" x2="132.10" y2="232.80" stroke="#c8163b" stroke-width="1.1" />
<line x1="130.50" y1="207.50" x2="133.70" y2="207.50" stroke="#c8163b" stroke-width="1.1" />
<line x1="130.50" y1="232.80" x2="133.70" y2="232.80" stroke="#c8163b" stroke-width="1.1" />
<rect x="130.05" y="209.30" width="4.10" height="18.50" fill="white" stroke="#c8163b" stroke-width="1.1" />
<line x1="130.05" y1="214.00" x2="134.15" y2="214.00" stroke="#c8163b" stroke-width="1.0" />
<circle cx="132.10" cy="211.53" r="1.0" fill="#c8163b"/>
<circle cx="132.10" cy="216.73" r="1.0" fill="#c8163b"/>
<circle cx="132.10" cy="219.54" r="1.0" fill="#c8163b"/>
<circle cx="132.10" cy="226.09" r="1.0" fill="#c8163b"/>
<circle cx="132.10" cy="207.50" r="1.1" fill="#c8163b"/>
<circle cx="132.10" cy="232.80" r="1.1" fill="#c8163b"/>
<line x1="142.30" y1="221.20" x2="142.30" y2="227.00" stroke="#c6c6cd" stroke-width="1.1" />
<line x1="142.30" y1="237.10" x2="142.30" y2="243.50" stroke="#c6c6cd" stroke-width="1.1" />
<line x1="140.70" y1="221.20" x2="143.90" y2="221.20" stroke="#c6c6cd" stroke-width="1.1" />
<line x1="140.70" y1="243.50" x2="143.90" y2="243.50" stroke="#c6c6cd" stroke-width="1.1" />
<rect x="140.25" y="227.00" width="4.10" height="10.10" fill="white" stroke="#c6c6cd" stroke-width="1.1" />
<line x1="140.25" y1="232.00" x2="144.35" y2="232.00" stroke="#c6c6cd" stroke-width="1.0" />
<circle cx="142.30" cy="228.70" r="1.0" fill="#c6c6cd"/>
<circle cx="142.30" cy="232.27" r="1.0" fill="#c6c6cd"/>
<circle cx="142.30" cy="234.28" r="1.0" fill="#c6c6cd"/>
<circle cx="142.30" cy="235.19" r="1.0" fill="#c6c6cd"/>
<circle cx="142.30" cy="221.20" r="1.1" fill="#c6c6cd"/>
<circle cx="142.30" cy="243.50" r="1.1" fill="#c6c6cd"/>
<line x1="147.90" y1="198.40" x2="147.90" y2="201.70" stroke="#1a1a1a" stroke-width="1.1" />
<line x1="147.90" y1="209.30" x2="147.90" y2="211.80" stroke="#1a1a1a" stroke-width="1.1" />
<line x1="146.30" y1="198.40" x2="149.50" y2="198.40" stroke="#1a1a1a" stroke-width="1.1" />
<line x1="146.30" y1="211.80" x2="149.50" y2="211.80" stroke="#1a1a1a" stroke-width="1.1" />
<rect x="146.00" y="201.70" width="3.80" height="7.60" fill="#1a1a1a" stroke="#1a1a1a" stroke-width="1.2" rx="1.2"/>
<circle cx="147.49" cy="206.78" r="1.15" fill="#1a1a1a"/>
<circle cx="146.18" cy="205.21" r="1.15" fill="#1a1a1a"/>
<circle cx="146.70" cy="202.59" r="1.15" fill="#1a1a1a"/>
<circle cx="146.31" cy="207.54" r="1.15" fill="#1a1a1a"/>
<circle cx="146.57" cy="203.58" r="1.15" fill="#1a1a1a"/>
<circle cx="147.51" cy="208.32" r="1.15" fill="#1a1a1a"/>
<circle cx="147.90" cy="198.40" r="1.15" fill="#1a1a1a"/>
<line x1="146.90" y1="204.36" x2="148.90" y2="204.36" stroke="#ffffff" stroke-width="0.6" />
<line x1="146.90" y1="206.64" x2="148.90" y2="206.64" stroke="#ffffff" stroke-width="0.6" />
<line x1="153.70" y1="250.50" x2="153.70" y2="257.40" stroke="#235c96" stroke-width="1.1" />
<line x1="152.30" y1="250.50" x2="155.10" y2="250.50" stroke="#235c96" stroke-width="1.0" />
<line x1="152.30" y1="257.40" x2="155.10" y2="257.40" stroke="#235c96" stroke-width="1.0" />
<line x1="151.40" y1="253.90" x2="156.00" y2="253.90" stroke="#235c96" stroke-width="1.1" />
<circle cx="153.70" cy="250.80" r="1.15" fill="#235c96"/>
<circle cx="153.70" cy="257.10" r="1.15" fill="#235c96"/>
<line x1="159.50" y1="195.40" x2="159.50" y2="199.20" stroke="#3db44a" stroke-width="1.1" />
<line x1="159.50" y1="232.10" x2="159.50" y2="238.40" stroke="#3db44a" stroke-width="1.1" />
<line x1="157.90" y1="195.40" x2="161.10" y2="195.40" stroke="#3db44a" stroke-width="1.1" />
<line x1="157.90" y1="238.40" x2="161.10" y2="238.40" stroke="#3db44a" stroke-width="1.1" />
<rect x="157.45" y="199.20" width="4.10" height="32.90" fill="white" stroke="#3db44a" stroke-width="1.1" />
<line x1="157.45" y1="215.50" x2="161.55" y2="215.50" stroke="#3db44a" stroke-width="1.0" />
<circle cx="159.50" cy="202.05" r="1.0" fill="#3db44a"/>
<circle cx="159.50" cy="211.39" r="1.0" fill="#3db44a"/>
<circle cx="159.50" cy="219.91" r="1.0" fill="#3db44a"/>
<circle cx="159.50" cy="229.14" r="1.0" fill="#3db44a"/>
<circle cx="159.50" cy="195.40" r="1.1" fill="#3db44a"/>
<circle cx="159.50" cy="238.40" r="1.1" fill="#3db44a"/>
<line x1="165.40" y1="212.00" x2="165.40" y2="213.10" stroke="#c8163b" stroke-width="1.1" />
<line x1="165.40" y1="243.00" x2="165.40" y2="246.50" stroke="#c8163b" stroke-width="1.1" />
<line x1="163.80" y1="212.00" x2="167.00" y2="212.00" stroke="#c8163b" stroke-width="1.1" />
<line x1="163.80" y1="246.50" x2="167.00" y2="246.50" stroke="#c8163b" stroke-width="1.1" />
<rect x="163.35" y="213.10" width="4.10" height="29.90" fill="white" stroke="#c8163b" stroke-width="1.1" />
<line x1="163.35" y1="228.00" x2="167.45" y2="228.00" stroke="#c8163b" stroke-width="1.0" />
<circle cx="165.40" cy="217.80" r="1.0" fill="#c8163b"/>
<circle cx="165.40" cy="225.40" r="1.0" fill="#c8163b"/>
<circle cx="165.40" cy="231.12" r="1.0" fill="#c8163b"/>
<circle cx="165.40" cy="239.01" r="1.0" fill="#c8163b"/>
<circle cx="165.40" cy="212.00" r="1.1" fill="#c8163b"/>
<circle cx="165.40" cy="246.50" r="1.1" fill="#c8163b"/>
<path d="M47.95,185.50 V182.60 H53.05 V185.50" fill="none" stroke="#1e1e1e" stroke-width="1.3" stroke-linejoin="round" stroke-linecap="round"/>
<path d="M54.15,185.50 V182.60 H59.35 V185.50" fill="none" stroke="#1e1e1e" stroke-width="1.3" stroke-linejoin="round" stroke-linecap="round"/>
<circle cx="40.85" cy="178.00" r="1.12" fill="#1a1a1a"/>
<circle cx="44.15" cy="178.00" r="1.12" fill="#1a1a1a"/>
<circle cx="47.45" cy="178.00" r="1.12" fill="#1a1a1a"/>
<circle cx="50.75" cy="178.00" r="1.12" fill="#1a1a1a"/>
<circle cx="56.35" cy="178.00" r="1.12" fill="#1a1a1a"/>
<circle cx="59.65" cy="178.00" r="1.12" fill="#1a1a1a"/>
<path d="M82.95,185.50 V182.60 H88.25 V185.50" fill="none" stroke="#1e1e1e" stroke-width="1.3" stroke-linejoin="round" stroke-linecap="round"/>
<path d="M89.35,185.50 V182.60 H97.95 V185.50" fill="none" stroke="#1e1e1e" stroke-width="1.3" stroke-linejoin="round" stroke-linecap="round"/>
<circle cx="76.95" cy="178.00" r="1.12" fill="#1a1a1a"/>
<circle cx="80.25" cy="178.00" r="1.12" fill="#1a1a1a"/>
<circle cx="83.55" cy="178.00" r="1.12" fill="#1a1a1a"/>
<circle cx="86.85" cy="178.00" r="1.12" fill="#1a1a1a"/>
<circle cx="94.20" cy="178.00" r="1.12" fill="#1a1a1a"/>
<path d="M114.65,185.50 V182.60 H120.75 V185.50" fill="none" stroke="#1e1e1e" stroke-width="1.3" stroke-linejoin="round" stroke-linecap="round"/>
<path d="M121.85,185.50 V182.60 H126.35 V185.50" fill="none" stroke="#1e1e1e" stroke-width="1.3" stroke-linejoin="round" stroke-linecap="round"/>
<circle cx="111.50" cy="177.60" r="1.12" fill="#1a1a1a"/>
<circle cx="114.80" cy="177.60" r="1.12" fill="#1a1a1a"/>
<circle cx="118.10" cy="177.60" r="1.12" fill="#1a1a1a"/>
<circle cx="124.00" cy="177.60" r="1.12" fill="#1a1a1a"/>
<path d="M148.35,185.50 V182.60 H154.65 V185.50" fill="none" stroke="#1e1e1e" stroke-width="1.3" stroke-linejoin="round" stroke-linecap="round"/>
<path d="M155.75,185.50 V182.60 H160.65 V185.50" fill="none" stroke="#1e1e1e" stroke-width="1.3" stroke-linejoin="round" stroke-linecap="round"/>
<circle cx="142.45" cy="177.60" r="1.12" fill="#1a1a1a"/>
<circle cx="145.75" cy="177.60" r="1.12" fill="#1a1a1a"/>
<circle cx="149.05" cy="177.60" r="1.12" fill="#1a1a1a"/>
<circle cx="152.35" cy="177.60" r="1.12" fill="#1a1a1a"/>
<circle cx="158.30" cy="177.60" r="1.12" fill="#1a1a1a"/>
<circle cx="161.60" cy="177.60" r="1.12" fill="#1a1a1a"/>
<circle cx="164.90" cy="177.60" r="1.12" fill="#1a1a1a"/>
<path d="M121.85,173.80 V170.80 H132.45 V173.80" fill="none" stroke="#1e1e1e" stroke-width="1.3" stroke-linejoin="round" stroke-linecap="round"/>
<circle cx="125.55" cy="165.80" r="1.12" fill="#1a1a1a"/>
<circle cx="128.85" cy="165.80" r="1.12" fill="#1a1a1a"/>
<path d="M156.05,173.80 V170.80 H166.05 V173.80" fill="none" stroke="#1e1e1e" stroke-width="1.3" stroke-linejoin="round" stroke-linecap="round"/>
<circle cx="161.20" cy="165.80" r="1.12" fill="#1a1a1a"/>
<line x1="206.90" y1="173.10" x2="206.90" y2="261.80" stroke="#262626" stroke-width="1.55" />
<line x1="204.00" y1="261.80" x2="297.10" y2="261.80" stroke="#262626" stroke-width="1.55" />
<line x1="204.00" y1="261.80" x2="206.90" y2="261.80" stroke="#262626" stroke-width="1.2" />
<text x="200.80" y="263.95" font-size="8.8" text-anchor="end" fill="#333" font-weight="normal" textLength="4.25" lengthAdjust="spacingAndGlyphs" >0</text>
<line x1="204.00" y1="239.75" x2="206.90" y2="239.75" stroke="#262626" stroke-width="1.2" />
<text x="200.80" y="241.90" font-size="8.8" text-anchor="end" fill="#333" font-weight="normal" textLength="4.25" lengthAdjust="spacingAndGlyphs" >1</text>
<line x1="204.00" y1="217.70" x2="206.90" y2="217.70" stroke="#262626" stroke-width="1.2" />
<text x="200.80" y="219.85" font-size="8.8" text-anchor="end" fill="#333" font-weight="normal" textLength="4.25" lengthAdjust="spacingAndGlyphs" >2</text>
<line x1="204.00" y1="195.65" x2="206.90" y2="195.65" stroke="#262626" stroke-width="1.2" />
<text x="200.80" y="197.80" font-size="8.8" text-anchor="end" fill="#333" font-weight="normal" textLength="4.25" lengthAdjust="spacingAndGlyphs" >3</text>
<line x1="204.00" y1="173.60" x2="206.90" y2="173.60" stroke="#262626" stroke-width="1.2" />
<text x="200.80" y="175.75" font-size="8.8" text-anchor="end" fill="#333" font-weight="normal" textLength="4.25" lengthAdjust="spacingAndGlyphs" >4</text>
<text transform="translate(187.20,216.60) rotate(-90)" x="0" y="2.94" font-size="8.4" text-anchor="middle" fill="#333" textLength="86.30" lengthAdjust="spacingAndGlyphs" >Marker expression (CyTOF)</text>
<text x="252.20" y="169.50" font-size="9.8" text-anchor="middle" fill="#333" font-weight="normal" textLength="52.30" lengthAdjust="spacingAndGlyphs" >Tex proteins</text>
<line x1="228.50" y1="261.80" x2="228.50" y2="264.50" stroke="#262626" stroke-width="1.0" />
<line x1="275.20" y1="261.80" x2="275.20" y2="264.50" stroke="#262626" stroke-width="1.0" />
<text x="228.30" y="273.60" font-size="8.2" text-anchor="middle" fill="#333" font-weight="normal" textLength="17.30" lengthAdjust="spacingAndGlyphs" >PD-1</text>
<text x="275.40" y="273.60" font-size="8.2" text-anchor="middle" fill="#333" font-weight="normal" textLength="19.60" lengthAdjust="spacingAndGlyphs" >TIGIT</text>
<rect x="210.6" y="255.6" width="5.0" height="3.6" rx="1.6" fill="white" stroke="#c3c3ca" stroke-width="1.1"/>
<circle cx="212.20" cy="248.60" r="1.0" fill="#c3c3ca"/>
<circle cx="212.90" cy="250.60" r="1.0" fill="#c3c3ca"/>
<circle cx="213.60" cy="252.40" r="1.0" fill="#c3c3ca"/>
<circle cx="212.60" cy="254.20" r="1.0" fill="#c3c3ca"/>
<path d="M220.40,261.80 V220.70 H226.90 V261.80" fill="white" stroke="#235c96" stroke-width="1.55"/>
<line x1="223.60" y1="212.40" x2="223.60" y2="226.60" stroke="#235c96" stroke-width="1.0" />
<line x1="222.10" y1="212.40" x2="225.10" y2="212.40" stroke="#235c96" stroke-width="1.0" />
<line x1="222.10" y1="226.60" x2="225.10" y2="226.60" stroke="#235c96" stroke-width="1.0" />
<circle cx="223.40" cy="212.00" r="1.45" fill="#235c96"/>
<circle cx="223.40" cy="214.30" r="1.45" fill="#235c96"/>
<circle cx="223.40" cy="216.40" r="1.45" fill="#235c96"/>
<circle cx="223.60" cy="232.40" r="1.45" fill="#235c96"/>
<path d="M230.50,261.80 V219.70 H237.30 V261.80" fill="white" stroke="#3db44a" stroke-width="1.55"/>
<line x1="233.80" y1="213.00" x2="233.80" y2="223.80" stroke="#3db44a" stroke-width="1.0" />
<line x1="232.30" y1="213.00" x2="235.30" y2="213.00" stroke="#3db44a" stroke-width="1.0" />
<line x1="232.30" y1="223.80" x2="235.30" y2="223.80" stroke="#3db44a" stroke-width="1.0" />
<circle cx="233.60" cy="197.70" r="1.45" fill="#3db44a"/>
<circle cx="233.80" cy="215.50" r="1.45" fill="#3db44a"/>
<circle cx="233.80" cy="223.10" r="1.45" fill="#3db44a"/>
<circle cx="233.80" cy="227.30" r="1.45" fill="#3db44a"/>
<circle cx="233.80" cy="231.40" r="1.45" fill="#3db44a"/>
<path d="M240.40,261.80 V246.50 H246.90 V261.80" fill="white" stroke="#c8163b" stroke-width="1.55"/>
<line x1="244.10" y1="241.80" x2="244.10" y2="250.00" stroke="#c8163b" stroke-width="1.0" />
<line x1="242.60" y1="241.80" x2="245.60" y2="241.80" stroke="#c8163b" stroke-width="1.0" />
<line x1="242.60" y1="250.00" x2="245.60" y2="250.00" stroke="#c8163b" stroke-width="1.0" />
<circle cx="244.10" cy="245.60" r="1.45" fill="#c8163b"/>
<circle cx="244.10" cy="250.00" r="1.45" fill="#c8163b"/>
<circle cx="259.80" cy="253.00" r="1.3" fill="#c3c3ca"/>
<circle cx="260.30" cy="254.60" r="1.3" fill="#c3c3ca"/>
<circle cx="259.30" cy="256.00" r="1.3" fill="#c3c3ca"/>
<circle cx="258.60" cy="257.40" r="1.3" fill="#c3c3ca"/>
<circle cx="259.40" cy="258.40" r="1.3" fill="#c3c3ca"/>
<circle cx="260.20" cy="257.00" r="1.3" fill="#c3c3ca"/>
<path d="M267.10,261.80 V232.10 H274.00 V261.80" fill="white" stroke="#235c96" stroke-width="1.55"/>
<line x1="270.70" y1="221.50" x2="270.70" y2="240.70" stroke="#235c96" stroke-width="1.0" />
<line x1="269.20" y1="221.50" x2="272.20" y2="221.50" stroke="#235c96" stroke-width="1.0" />
<line x1="269.20" y1="240.70" x2="272.20" y2="240.70" stroke="#235c96" stroke-width="1.0" />
<circle cx="268.60" cy="220.50" r="1.45" fill="#235c96"/>
<circle cx="271.10" cy="223.00" r="1.45" fill="#235c96"/>
<circle cx="270.70" cy="250.40" r="1.45" fill="#235c96"/>
<path d="M277.50,261.80 V229.00 H283.90 V261.80" fill="white" stroke="#3db44a" stroke-width="1.55"/>
<line x1="280.60" y1="220.00" x2="280.60" y2="234.90" stroke="#3db44a" stroke-width="1.0" />
<line x1="279.10" y1="220.00" x2="282.10" y2="220.00" stroke="#3db44a" stroke-width="1.0" />
<line x1="279.10" y1="234.90" x2="282.10" y2="234.90" stroke="#3db44a" stroke-width="1.0" />
<circle cx="280.60" cy="208.10" r="1.45" fill="#3db44a"/>
<circle cx="280.60" cy="220.00" r="1.45" fill="#3db44a"/>
<circle cx="280.60" cy="232.90" r="1.45" fill="#3db44a"/>
<circle cx="282.60" cy="235.30" r="1.45" fill="#3db44a"/>
<circle cx="279.00" cy="240.70" r="1.45" fill="#3db44a"/>
<path d="M287.40,261.80 V240.40 H294.20 V261.80" fill="white" stroke="#c8163b" stroke-width="1.55"/>
<line x1="290.90" y1="236.00" x2="290.90" y2="244.00" stroke="#c8163b" stroke-width="1.0" />
<line x1="289.40" y1="236.00" x2="292.40" y2="236.00" stroke="#c8163b" stroke-width="1.0" />
<line x1="289.40" y1="244.00" x2="292.40" y2="244.00" stroke="#c8163b" stroke-width="1.0" />
<circle cx="290.90" cy="243.80" r="1.45" fill="#c8163b"/>
<path d="M214.55,184.30 V179.60 H242.75 V184.30" fill="none" stroke="#1e1e1e" stroke-width="1.3" stroke-linejoin="round" stroke-linecap="round"/>
<text x="228.80" y="177.00" font-size="7.6" text-anchor="middle" fill="#333" font-weight="normal" textLength="7.60" lengthAdjust="spacingAndGlyphs" >ns</text>
<path d="M214.55,194.20 V189.90 H233.05 V194.20" fill="none" stroke="#1e1e1e" stroke-width="1.3" stroke-linejoin="round" stroke-linecap="round"/>
<circle cx="218.35" cy="186.40" r="1.12" fill="#1a1a1a"/>
<circle cx="221.65" cy="186.40" r="1.12" fill="#1a1a1a"/>
<circle cx="224.95" cy="186.40" r="1.12" fill="#1a1a1a"/>
<circle cx="228.25" cy="186.40" r="1.12" fill="#1a1a1a"/>
<path d="M214.55,208.00 V203.70 H223.45 V208.00" fill="none" stroke="#1e1e1e" stroke-width="1.3" stroke-linejoin="round" stroke-linecap="round"/>
<circle cx="215.50" cy="200.20" r="1.12" fill="#1a1a1a"/>
<circle cx="218.80" cy="200.20" r="1.12" fill="#1a1a1a"/>
<circle cx="222.10" cy="200.20" r="1.12" fill="#1a1a1a"/>
<path d="M261.25,192.60 V188.50 H289.75 V192.60" fill="none" stroke="#1e1e1e" stroke-width="1.3" stroke-linejoin="round" stroke-linecap="round"/>
<text x="275.60" y="185.60" font-size="7.6" text-anchor="middle" fill="#333" font-weight="normal" textLength="7.60" lengthAdjust="spacingAndGlyphs" >ns</text>
<path d="M261.25,202.90 V199.30 H280.05 V202.90" fill="none" stroke="#1e1e1e" stroke-width="1.3" stroke-linejoin="round" stroke-linecap="round"/>
<circle cx="268.55" cy="194.60" r="1.12" fill="#1a1a1a"/>
<circle cx="271.85" cy="194.60" r="1.12" fill="#1a1a1a"/>
<path d="M261.25,215.30 V211.70 H270.15 V215.30" fill="none" stroke="#1e1e1e" stroke-width="1.3" stroke-linejoin="round" stroke-linecap="round"/>
<circle cx="264.90" cy="207.00" r="1.12" fill="#1a1a1a"/>
<circle cx="188.90" cy="283.10" r="1.75" fill="#c0c0c7"/>
<text x="192.30" y="285.20" font-size="6.6" text-anchor="start" fill="#222" font-weight="normal" textLength="40.70" lengthAdjust="spacingAndGlyphs" >Control CD4+</text>
<circle cx="188.90" cy="291.90" r="1.75" fill="#3db44a"/>
<text x="192.30" y="294.10" font-size="6.6" text-anchor="start" fill="#222" font-weight="normal" textLength="64.10" lengthAdjust="spacingAndGlyphs" >Moderately exhausted</text>
<circle cx="263.80" cy="283.10" r="1.75" fill="#235c96"/>
<text x="267.60" y="285.20" font-size="6.6" text-anchor="start" fill="#222" font-weight="normal" textLength="44.60" lengthAdjust="spacingAndGlyphs" >Fully exhausted</text>
<circle cx="263.80" cy="291.90" r="1.75" fill="#c8163b"/>
<text x="267.60" y="294.10" font-size="6.6" text-anchor="start" fill="#222" font-weight="normal" textLength="21.70" lengthAdjust="spacingAndGlyphs" >PD1low</text>
<text x="440.50" y="172.80" font-size="9.8" text-anchor="middle" fill="#333" font-weight="normal" textLength="43.40" lengthAdjust="spacingAndGlyphs" >Tex genes</text>
<rect x="391.20" y="179.30" width="19.74" height="3.30" fill="#b5b5b8" stroke="none" stroke-width="1.0" />
<rect x="410.94" y="179.30" width="19.74" height="3.30" fill="#000000" stroke="none" stroke-width="1.0" />
<rect x="430.68" y="179.30" width="19.74" height="3.30" fill="#1c5a94" stroke="none" stroke-width="1.0" />
<rect x="450.42" y="179.30" width="19.74" height="3.30" fill="#36b34a" stroke="none" stroke-width="1.0" />
<rect x="470.16" y="179.30" width="19.74" height="3.30" fill="#c8163b" stroke="none" stroke-width="1.0" />
<rect x="391.50" y="183.40" width="19.14" height="7.05" fill="#2e6399" stroke="none" stroke-width="1.0" />
<rect x="411.24" y="183.40" width="19.14" height="7.05" fill="#fbe5e9" stroke="none" stroke-width="1.0" />
<rect x="430.98" y="183.40" width="19.14" height="7.05" fill="#f2c6cf" stroke="none" stroke-width="1.0" />
<rect x="450.72" y="183.40" width="19.14" height="7.05" fill="#d5435b" stroke="none" stroke-width="1.0" />
<rect x="470.46" y="183.40" width="19.14" height="7.05" fill="#b3c7dc" stroke="none" stroke-width="1.0" />
<text x="387.30" y="189.10" font-size="6.3" text-anchor="end" fill="#2a2a2a" font-weight="normal" textLength="19.90" lengthAdjust="spacingAndGlyphs" >PDCD1</text>
<rect x="391.50" y="190.40" width="19.14" height="7.05" fill="#1b5690" stroke="none" stroke-width="1.0" />
<rect x="411.24" y="190.40" width="19.14" height="7.05" fill="#e3e9f1" stroke="none" stroke-width="1.0" />
<rect x="430.98" y="190.40" width="19.14" height="7.05" fill="#ecaab6" stroke="none" stroke-width="1.0" />
<rect x="450.72" y="190.40" width="19.14" height="7.05" fill="#e48898" stroke="none" stroke-width="1.0" />
<rect x="470.46" y="190.40" width="19.14" height="7.05" fill="#fbe7eb" stroke="none" stroke-width="1.0" />
<text x="387.30" y="196.10" font-size="6.3" text-anchor="end" fill="#2a2a2a" font-weight="normal" textLength="13.80" lengthAdjust="spacingAndGlyphs" >TIGIT</text>
<rect x="391.50" y="197.40" width="19.14" height="7.05" fill="#3b6c9f" stroke="none" stroke-width="1.0" />
<rect x="411.24" y="197.40" width="19.14" height="7.05" fill="#cbd8e6" stroke="none" stroke-width="1.0" />
<rect x="430.98" y="197.40" width="19.14" height="7.05" fill="#c8102e" stroke="none" stroke-width="1.0" />
<rect x="450.72" y="197.40" width="19.14" height="7.05" fill="#f6d0d7" stroke="none" stroke-width="1.0" />
<rect x="470.46" y="197.40" width="19.14" height="7.05" fill="#adc3d9" stroke="none" stroke-width="1.0" />
<text x="387.30" y="203.10" font-size="6.3" text-anchor="end" fill="#2a2a2a" font-weight="normal" textLength="15.80" lengthAdjust="spacingAndGlyphs" >LAYN</text>
<rect x="391.50" y="204.40" width="19.14" height="7.05" fill="#4a79a9" stroke="none" stroke-width="1.0" />
<rect x="411.24" y="204.40" width="19.14" height="7.05" fill="#d5e0eb" stroke="none" stroke-width="1.0" />
<rect x="430.98" y="204.40" width="19.14" height="7.05" fill="#df6e80" stroke="none" stroke-width="1.0" />
<rect x="450.72" y="204.40" width="19.14" height="7.05" fill="#d43a52" stroke="none" stroke-width="1.0" />
<rect x="470.46" y="204.40" width="19.14" height="7.05" fill="#5685b1" stroke="none" stroke-width="1.0" />
<text x="387.30" y="210.10" font-size="6.3" text-anchor="end" fill="#2a2a2a" font-weight="normal" textLength="14.40" lengthAdjust="spacingAndGlyphs" >LAG3</text>
<rect x="391.50" y="211.40" width="19.14" height="7.05" fill="#6790ba" stroke="none" stroke-width="1.0" />
<rect x="411.24" y="211.40" width="19.14" height="7.05" fill="#ffffff" stroke="none" stroke-width="1.0" />
<rect x="430.98" y="211.40" width="19.14" height="7.05" fill="#fbe2e6" stroke="none" stroke-width="1.0" />
<rect x="450.72" y="211.40" width="19.14" height="7.05" fill="#c9122f" stroke="none" stroke-width="1.0" />
<rect x="470.46" y="211.40" width="19.14" height="7.05" fill="#4a7aaa" stroke="none" stroke-width="1.0" />
<text x="387.30" y="217.10" font-size="6.3" text-anchor="end" fill="#2a2a2a" font-weight="normal" textLength="17.00" lengthAdjust="spacingAndGlyphs" >CTLA4</text>
<rect x="391.50" y="218.40" width="19.14" height="7.05" fill="#fbe3e7" stroke="none" stroke-width="1.0" />
<rect x="411.24" y="218.40" width="19.14" height="7.05" fill="#18548f" stroke="none" stroke-width="1.0" />
<rect x="430.98" y="218.40" width="19.14" height="7.05" fill="#f5cbd3" stroke="none" stroke-width="1.0" />
<rect x="450.72" y="218.40" width="19.14" height="7.05" fill="#769abf" stroke="none" stroke-width="1.0" />
<rect x="470.46" y="218.40" width="19.14" height="7.05" fill="#d23b53" stroke="none" stroke-width="1.0" />
<text x="387.30" y="224.10" font-size="6.3" text-anchor="end" fill="#2a2a2a" font-weight="normal" textLength="24.60" lengthAdjust="spacingAndGlyphs" >HAVCR2</text>
<rect x="391.50" y="233.40" width="19.14" height="7.05" fill="#30649a" stroke="none" stroke-width="1.0" />
<rect x="411.24" y="233.40" width="19.14" height="7.05" fill="#b8cbdf" stroke="none" stroke-width="1.0" />
<rect x="430.98" y="233.40" width="19.14" height="7.05" fill="#c8102e" stroke="none" stroke-width="1.0" />
<rect x="450.72" y="233.40" width="19.14" height="7.05" fill="#e6ecf3" stroke="none" stroke-width="1.0" />
<rect x="470.46" y="233.40" width="19.14" height="7.05" fill="#ffffff" stroke="none" stroke-width="1.0" />
<text x="387.30" y="239.10" font-size="6.3" text-anchor="end" fill="#2a2a2a" font-weight="normal" textLength="23.10" lengthAdjust="spacingAndGlyphs" >ENTPD1</text>
<rect x="391.50" y="249.00" width="19.14" height="7.05" fill="#6a92bb" stroke="none" stroke-width="1.0" />
<rect x="411.24" y="249.00" width="19.14" height="7.05" fill="#b8cbdf" stroke="none" stroke-width="1.0" />
<rect x="430.98" y="249.00" width="19.14" height="7.05" fill="#d63e56" stroke="none" stroke-width="1.0" />
<rect x="450.72" y="249.00" width="19.14" height="7.05" fill="#e06e80" stroke="none" stroke-width="1.0" />
<rect x="470.46" y="249.00" width="19.14" height="7.05" fill="#b9cce0" stroke="none" stroke-width="1.0" />
<text x="387.30" y="254.70" font-size="6.3" text-anchor="end" fill="#2a2a2a" font-weight="normal" textLength="22.80" lengthAdjust="spacingAndGlyphs" >CXCL13</text>
<rect x="391.50" y="264.30" width="19.14" height="6.65" fill="#4a7aaa" stroke="none" stroke-width="1.0" />
<rect x="411.24" y="264.30" width="19.14" height="6.65" fill="#b8cbdf" stroke="none" stroke-width="1.0" />
<rect x="430.98" y="264.30" width="19.14" height="6.65" fill="#f5ccd4" stroke="none" stroke-width="1.0" />
<rect x="450.72" y="264.30" width="19.14" height="6.65" fill="#de6a7d" stroke="none" stroke-width="1.0" />
<rect x="470.46" y="264.30" width="19.14" height="6.65" fill="#f6ced5" stroke="none" stroke-width="1.0" />
<text x="387.30" y="269.80" font-size="6.3" text-anchor="end" fill="#2a2a2a" font-weight="normal" textLength="12.30" lengthAdjust="spacingAndGlyphs" >TOX</text>
<rect x="391.50" y="270.90" width="19.14" height="6.85" fill="#f0f3f7" stroke="none" stroke-width="1.0" />
<rect x="411.24" y="270.90" width="19.14" height="6.85" fill="#fce8eb" stroke="none" stroke-width="1.0" />
<rect x="430.98" y="270.90" width="19.14" height="6.85" fill="#f1f4f8" stroke="none" stroke-width="1.0" />
<rect x="450.72" y="270.90" width="19.14" height="6.85" fill="#d43f57" stroke="none" stroke-width="1.0" />
<rect x="470.46" y="270.90" width="19.14" height="6.85" fill="#18548f" stroke="none" stroke-width="1.0" />
<text x="387.30" y="276.50" font-size="6.3" text-anchor="end" fill="#2a2a2a" font-weight="normal" textLength="16.10" lengthAdjust="spacingAndGlyphs" >TOX2</text>
<line x1="391.70" y1="229.5" x2="489.40" y2="229.5" stroke="#222" stroke-width="1.0" stroke-dasharray="1.2,0.9"/>
<line x1="391.70" y1="245.0" x2="489.40" y2="245.0" stroke="#9c9c9c" stroke-width="1.0" stroke-dasharray="3.2,0.6"/>
<line x1="391.70" y1="260.3" x2="489.40" y2="260.3" stroke="#222" stroke-width="1.0" stroke-dasharray="1.2,0.9"/>
<text x="387.30" y="180.90" font-size="7.1" text-anchor="end" fill="#2a2a2a" font-weight="normal" textLength="76.10" lengthAdjust="spacingAndGlyphs" >Co-inhibitory receptors</text>
<text x="387.30" y="231.80" font-size="7.1" text-anchor="end" fill="#2a2a2a" font-weight="normal" textLength="65.80" lengthAdjust="spacingAndGlyphs" >Terminal exhaustion</text>
<text x="387.30" y="247.20" font-size="7.1" text-anchor="end" fill="#2a2a2a" font-weight="normal" textLength="36.90" lengthAdjust="spacingAndGlyphs" >Chemokine</text>
<text x="387.30" y="261.80" font-size="7.1" text-anchor="end" fill="#2a2a2a" font-weight="normal" textLength="66.90" lengthAdjust="spacingAndGlyphs" >Transcription factors</text>
<rect x="390.80" y="183.00" width="99.40" height="95.10" fill="none" stroke="#111" stroke-width="1.1" />
<defs><linearGradient id="cb" x1="0" y1="0" x2="0" y2="1"><stop offset="0" stop-color="#1f5791"/><stop offset="0.18" stop-color="#5f8ab5"/><stop offset="0.49" stop-color="#ffffff"/><stop offset="0.52" stop-color="#ffffff"/><stop offset="0.82" stop-color="#e07a8c"/><stop offset="1" stop-color="#c8102e"/></linearGradient></defs>
<rect x="492.60" y="183.10" width="9.80" height="95.00" fill="url(#cb)" stroke="#222" stroke-width="1.0" />
<line x1="492.60" y1="199.90" x2="494.60" y2="199.90" stroke="#111" stroke-width="1.0" />
<line x1="500.40" y1="199.90" x2="502.60" y2="199.90" stroke="#111" stroke-width="1.0" />
<text x="506.00" y="202.40" font-size="7.2" text-anchor="start" fill="#333" font-weight="normal" >1</text>
<line x1="492.60" y1="230.00" x2="494.60" y2="230.00" stroke="#111" stroke-width="1.0" />
<line x1="500.40" y1="230.00" x2="502.60" y2="230.00" stroke="#111" stroke-width="1.0" />
<text x="506.00" y="232.50" font-size="7.2" text-anchor="start" fill="#333" font-weight="normal" >0</text>
<line x1="492.60" y1="259.60" x2="494.60" y2="259.60" stroke="#111" stroke-width="1.0" />
<line x1="500.40" y1="259.60" x2="502.60" y2="259.60" stroke="#111" stroke-width="1.0" />
<text x="504.60" y="262.10" font-size="7.2" text-anchor="start" fill="#333" font-weight="normal" >−1</text>
<rect x="391.00" y="285.60" width="8.00" height="3.00" fill="#000" stroke="none" stroke-width="1.0" />
<rect x="391.00" y="297.10" width="8.00" height="3.00" fill="#bdbdc5" stroke="none" stroke-width="1.0" />
<rect x="431.80" y="283.40" width="8.00" height="3.20" fill="#235c96" stroke="none" stroke-width="1.0" />
<rect x="431.80" y="291.60" width="8.00" height="3.00" fill="#3db44a" stroke="none" stroke-width="1.0" />
<rect x="431.80" y="299.90" width="8.00" height="3.00" fill="#c8163b" stroke="none" stroke-width="1.0" />
<text x="413.60" y="287.00" font-size="6.6" text-anchor="middle" fill="#222" font-weight="normal" textLength="21.30" lengthAdjust="spacingAndGlyphs" >Control</text>
<text x="413.60" y="292.30" font-size="6.6" text-anchor="middle" fill="#222" font-weight="normal" textLength="14.50" lengthAdjust="spacingAndGlyphs" >naive</text>
<text x="413.60" y="298.80" font-size="6.6" text-anchor="middle" fill="#222" font-weight="normal" textLength="21.30" lengthAdjust="spacingAndGlyphs" >Control</text>
<text x="413.60" y="303.60" font-size="6.6" text-anchor="middle" fill="#222" font-weight="normal" textLength="24.00" lengthAdjust="spacingAndGlyphs" >memory</text>
<text x="443.20" y="286.70" font-size="6.6" text-anchor="start" fill="#222" font-weight="normal" textLength="43.70" lengthAdjust="spacingAndGlyphs" >Fully exhausted</text>
<text x="443.20" y="295.00" font-size="6.6" text-anchor="start" fill="#222" font-weight="normal" textLength="63.40" lengthAdjust="spacingAndGlyphs" >Moderately exhausted</text>
<text x="443.20" y="303.20" font-size="6.6" text-anchor="start" fill="#222" font-weight="normal" textLength="21.30" lengthAdjust="spacingAndGlyphs" >PD1low</text>
<text x="38.40" y="337.70" font-size="8.4" text-anchor="middle" fill="#333" font-weight="normal" textLength="16.50" lengthAdjust="spacingAndGlyphs" >Fully</text>
<text x="38.00" y="346.60" font-size="8.4" text-anchor="middle" fill="#333" font-weight="normal" textLength="36.60" lengthAdjust="spacingAndGlyphs" >exhausted</text>
<text x="90.90" y="337.70" font-size="8.4" text-anchor="middle" fill="#333" font-weight="normal" textLength="40.90" lengthAdjust="spacingAndGlyphs" >Moderately</text>
<text x="90.80" y="346.60" font-size="8.4" text-anchor="middle" fill="#333" font-weight="normal" textLength="36.60" lengthAdjust="spacingAndGlyphs" >exhausted</text>
<text x="148.60" y="342.50" font-size="8.4" text-anchor="middle" fill="#333" font-weight="normal" textLength="24.60" lengthAdjust="spacingAndGlyphs" >PD1low</text>
<rect x="20.90" y="350.10" width="34.70" height="2.70" fill="#144e8a" stroke="none" stroke-width="1.0" />
<rect x="64.70" y="350.10" width="52.90" height="2.70" fill="#3db44a" stroke="none" stroke-width="1.0" />
<rect x="126.10" y="350.10" width="44.10" height="2.70" fill="#c8163b" stroke="none" stroke-width="1.0" />
<rect x="21.10" y="356.30" width="34.40" height="41.30" fill="#1a558f" stroke="none" stroke-width="1.0" />
<rect x="64.60" y="356.20" width="8.93" height="4.19" fill="#c8102e" stroke="none" stroke-width="1.0" />
<rect x="64.60" y="360.34" width="8.93" height="1.64" fill="#3c6ea0" stroke="none" stroke-width="1.0" />
<rect x="64.60" y="361.93" width="8.93" height="2.69" fill="#c8102e" stroke="none" stroke-width="1.0" />
<rect x="64.60" y="364.57" width="8.93" height="1.64" fill="#ffffff" stroke="none" stroke-width="1.0" />
<rect x="64.60" y="366.16" width="8.93" height="3.75" fill="#c8102e" stroke="none" stroke-width="1.0" />
<rect x="64.60" y="369.86" width="8.93" height="1.11" fill="#f8dde2" stroke="none" stroke-width="1.0" />
<rect x="64.60" y="370.92" width="8.93" height="1.32" fill="#c8102e" stroke="none" stroke-width="1.0" />
<rect x="64.60" y="372.19" width="8.93" height="1.95" fill="#ffffff" stroke="none" stroke-width="1.0" />
<rect x="64.60" y="374.09" width="8.93" height="7.98" fill="#c8102e" stroke="none" stroke-width="1.0" />
<rect x="64.60" y="382.02" width="8.93" height="2.16" fill="#ffffff" stroke="none" stroke-width="1.0" />
<rect x="64.60" y="384.14" width="8.93" height="3.22" fill="#c8102e" stroke="none" stroke-width="1.0" />
<rect x="64.60" y="387.31" width="8.93" height="0.79" fill="#ffffff" stroke="none" stroke-width="1.0" />
<rect x="64.60" y="388.05" width="8.93" height="3.01" fill="#c8102e" stroke="none" stroke-width="1.0" />
<rect x="64.60" y="391.01" width="8.93" height="2.16" fill="#f8dde2" stroke="none" stroke-width="1.0" />
<rect x="64.60" y="393.12" width="8.93" height="2.69" fill="#c8102e" stroke="none" stroke-width="1.0" />
<rect x="64.60" y="395.77" width="8.93" height="1.98" fill="#eeaab6" stroke="none" stroke-width="1.0" />
<rect x="73.48" y="356.20" width="8.93" height="1.55" fill="#c8102e" stroke="none" stroke-width="1.0" />
<rect x="73.48" y="357.70" width="8.93" height="1.64" fill="#f8dde2" stroke="none" stroke-width="1.0" />
<rect x="73.48" y="359.29" width="8.93" height="5.34" fill="#c8102e" stroke="none" stroke-width="1.0" />
<rect x="73.48" y="364.57" width="8.93" height="1.64" fill="#eeaab6" stroke="none" stroke-width="1.0" />
<rect x="73.48" y="366.16" width="8.93" height="1.64" fill="#f8dde2" stroke="none" stroke-width="1.0" />
<rect x="73.48" y="367.75" width="8.93" height="2.16" fill="#c8102e" stroke="none" stroke-width="1.0" />
<rect x="73.48" y="369.86" width="8.93" height="1.64" fill="#3c6ea0" stroke="none" stroke-width="1.0" />
<rect x="73.48" y="371.45" width="8.93" height="1.64" fill="#c4d4e6" stroke="none" stroke-width="1.0" />
<rect x="73.48" y="373.03" width="8.93" height="1.64" fill="#c8102e" stroke="none" stroke-width="1.0" />
<rect x="73.48" y="374.62" width="8.93" height="1.64" fill="#ffffff" stroke="none" stroke-width="1.0" />
<rect x="73.48" y="376.21" width="8.93" height="1.64" fill="#c4d4e6" stroke="none" stroke-width="1.0" />
<rect x="73.48" y="377.79" width="8.93" height="2.16" fill="#eeaab6" stroke="none" stroke-width="1.0" />
<rect x="73.48" y="379.91" width="8.93" height="1.85" fill="#f8dde2" stroke="none" stroke-width="1.0" />
<rect x="73.48" y="381.70" width="8.93" height="1.95" fill="#4a3f75" stroke="none" stroke-width="1.0" />
<rect x="73.48" y="383.61" width="8.93" height="4.28" fill="#c8102e" stroke="none" stroke-width="1.0" />
<rect x="73.48" y="387.84" width="8.93" height="2.69" fill="#b0a8c8" stroke="none" stroke-width="1.0" />
<rect x="73.48" y="390.48" width="8.93" height="1.64" fill="#eeaab6" stroke="none" stroke-width="1.0" />
<rect x="73.48" y="392.07" width="8.93" height="2.16" fill="#c8102e" stroke="none" stroke-width="1.0" />
<rect x="73.48" y="394.18" width="8.93" height="2.16" fill="#c4d4e6" stroke="none" stroke-width="1.0" />
<rect x="73.48" y="396.30" width="8.93" height="1.45" fill="#eeaab6" stroke="none" stroke-width="1.0" />
<rect x="82.37" y="356.20" width="8.93" height="1.02" fill="#c8102e" stroke="none" stroke-width="1.0" />
<rect x="82.37" y="357.17" width="8.93" height="1.95" fill="#4a3f75" stroke="none" stroke-width="1.0" />
<rect x="82.37" y="359.08" width="8.93" height="1.11" fill="#c8102e" stroke="none" stroke-width="1.0" />
<rect x="82.37" y="360.13" width="8.93" height="1.53" fill="#f8dde2" stroke="none" stroke-width="1.0" />
<rect x="82.37" y="361.61" width="8.93" height="1.42" fill="#c8102e" stroke="none" stroke-width="1.0" />
<rect x="82.37" y="362.99" width="8.93" height="1.64" fill="#3c6ea0" stroke="none" stroke-width="1.0" />
<rect x="82.37" y="364.57" width="8.93" height="1.32" fill="#c4d4e6" stroke="none" stroke-width="1.0" />
<rect x="82.37" y="365.84" width="8.93" height="1.42" fill="#c8102e" stroke="none" stroke-width="1.0" />
<rect x="82.37" y="367.22" width="8.93" height="1.64" fill="#8fb0d0" stroke="none" stroke-width="1.0" />
<rect x="82.37" y="368.80" width="8.93" height="1.11" fill="#ffffff" stroke="none" stroke-width="1.0" />
<rect x="82.37" y="369.86" width="8.93" height="1.64" fill="#eeaab6" stroke="none" stroke-width="1.0" />
<rect x="82.37" y="371.45" width="8.93" height="1.11" fill="#c8102e" stroke="none" stroke-width="1.0" />
<rect x="82.37" y="372.50" width="8.93" height="4.28" fill="#1b5690" stroke="none" stroke-width="1.0" />
<rect x="82.37" y="376.73" width="8.93" height="1.64" fill="#c4d4e6" stroke="none" stroke-width="1.0" />
<rect x="82.37" y="378.32" width="8.93" height="1.64" fill="#c8102e" stroke="none" stroke-width="1.0" />
<rect x="82.37" y="379.91" width="8.93" height="1.64" fill="#ffffff" stroke="none" stroke-width="1.0" />
<rect x="82.37" y="381.49" width="8.93" height="3.22" fill="#1b5690" stroke="none" stroke-width="1.0" />
<rect x="82.37" y="384.67" width="8.93" height="1.11" fill="#c8102e" stroke="none" stroke-width="1.0" />
<rect x="82.37" y="385.72" width="8.93" height="1.64" fill="#1b5690" stroke="none" stroke-width="1.0" />
<rect x="82.37" y="387.31" width="8.93" height="1.64" fill="#f8dde2" stroke="none" stroke-width="1.0" />
<rect x="82.37" y="388.89" width="8.93" height="1.64" fill="#c4d4e6" stroke="none" stroke-width="1.0" />
<rect x="82.37" y="390.48" width="8.93" height="2.69" fill="#1b5690" stroke="none" stroke-width="1.0" />
<rect x="82.37" y="393.12" width="8.93" height="1.64" fill="#c8102e" stroke="none" stroke-width="1.0" />
<rect x="82.37" y="394.71" width="8.93" height="1.42" fill="#1b5690" stroke="none" stroke-width="1.0" />
<rect x="82.37" y="396.09" width="8.93" height="1.66" fill="#eeaab6" stroke="none" stroke-width="1.0" />
<rect x="91.25" y="356.20" width="8.93" height="1.23" fill="#eeaab6" stroke="none" stroke-width="1.0" />
<rect x="91.25" y="357.38" width="8.93" height="1.74" fill="#c4d4e6" stroke="none" stroke-width="1.0" />
<rect x="91.25" y="359.08" width="8.93" height="1.85" fill="#c8102e" stroke="none" stroke-width="1.0" />
<rect x="91.25" y="360.87" width="8.93" height="2.16" fill="#ffffff" stroke="none" stroke-width="1.0" />
<rect x="91.25" y="362.99" width="8.93" height="1.64" fill="#f8dde2" stroke="none" stroke-width="1.0" />
<rect x="91.25" y="364.57" width="8.93" height="8.51" fill="#c8102e" stroke="none" stroke-width="1.0" />
<rect x="91.25" y="373.03" width="8.93" height="1.64" fill="#c4d4e6" stroke="none" stroke-width="1.0" />
<rect x="91.25" y="374.62" width="8.93" height="1.64" fill="#d8a8b8" stroke="none" stroke-width="1.0" />
<rect x="91.25" y="376.21" width="8.93" height="1.64" fill="#d0d8e6" stroke="none" stroke-width="1.0" />
<rect x="91.25" y="377.79" width="8.93" height="1.64" fill="#f8dde2" stroke="none" stroke-width="1.0" />
<rect x="91.25" y="379.38" width="8.93" height="8.30" fill="#c8102e" stroke="none" stroke-width="1.0" />
<rect x="91.25" y="387.63" width="8.93" height="1.85" fill="#ffffff" stroke="none" stroke-width="1.0" />
<rect x="91.25" y="389.42" width="8.93" height="2.16" fill="#c8102e" stroke="none" stroke-width="1.0" />
<rect x="91.25" y="391.54" width="8.93" height="1.85" fill="#eeaab6" stroke="none" stroke-width="1.0" />
<rect x="91.25" y="393.34" width="8.93" height="1.95" fill="#c8102e" stroke="none" stroke-width="1.0" />
<rect x="91.25" y="395.24" width="8.93" height="2.51" fill="#e07080" stroke="none" stroke-width="1.0" />
<rect x="100.13" y="356.20" width="8.93" height="1.55" fill="#1b5690" stroke="none" stroke-width="1.0" />
<rect x="100.13" y="357.70" width="8.93" height="1.42" fill="#c8102e" stroke="none" stroke-width="1.0" />
<rect x="100.13" y="359.08" width="8.93" height="1.32" fill="#ffffff" stroke="none" stroke-width="1.0" />
<rect x="100.13" y="360.34" width="8.93" height="3.75" fill="#1b5690" stroke="none" stroke-width="1.0" />
<rect x="100.13" y="364.05" width="8.93" height="1.11" fill="#c8102e" stroke="none" stroke-width="1.0" />
<rect x="100.13" y="365.10" width="8.93" height="1.42" fill="#eeaab6" stroke="none" stroke-width="1.0" />
<rect x="100.13" y="366.48" width="8.93" height="1.53" fill="#ffffff" stroke="none" stroke-width="1.0" />
<rect x="100.13" y="367.96" width="8.93" height="1.95" fill="#1b5690" stroke="none" stroke-width="1.0" />
<rect x="100.13" y="369.86" width="8.93" height="3.22" fill="#ffffff" stroke="none" stroke-width="1.0" />
<rect x="100.13" y="373.03" width="8.93" height="1.32" fill="#c8102e" stroke="none" stroke-width="1.0" />
<rect x="100.13" y="374.30" width="8.93" height="1.95" fill="#c4d4e6" stroke="none" stroke-width="1.0" />
<rect x="100.13" y="376.21" width="8.93" height="2.16" fill="#f8dde2" stroke="none" stroke-width="1.0" />
<rect x="100.13" y="378.32" width="8.93" height="1.64" fill="#c4d4e6" stroke="none" stroke-width="1.0" />
<rect x="100.13" y="379.91" width="8.93" height="1.42" fill="#1b5690" stroke="none" stroke-width="1.0" />
<rect x="100.13" y="381.28" width="8.93" height="3.43" fill="#c4d4e6" stroke="none" stroke-width="1.0" />
<rect x="100.13" y="384.67" width="8.93" height="1.64" fill="#c8a0b8" stroke="none" stroke-width="1.0" />
<rect x="100.13" y="386.25" width="8.93" height="1.64" fill="#c4d4e6" stroke="none" stroke-width="1.0" />
<rect x="100.13" y="387.84" width="8.93" height="1.64" fill="#1b5690" stroke="none" stroke-width="1.0" />
<rect x="100.13" y="389.42" width="8.93" height="1.64" fill="#c8102e" stroke="none" stroke-width="1.0" />
<rect x="100.13" y="391.01" width="8.93" height="1.64" fill="#c4d4e6" stroke="none" stroke-width="1.0" />
<rect x="100.13" y="392.60" width="8.93" height="1.64" fill="#1b5690" stroke="none" stroke-width="1.0" />
<rect x="100.13" y="394.18" width="8.93" height="1.64" fill="#c4d4e6" stroke="none" stroke-width="1.0" />
<rect x="100.13" y="395.77" width="8.93" height="1.98" fill="#c8102e" stroke="none" stroke-width="1.0" />
<rect x="109.02" y="356.20" width="8.93" height="1.55" fill="#f8dde2" stroke="none" stroke-width="1.0" />
<rect x="109.02" y="357.70" width="8.93" height="2.16" fill="#eeaab6" stroke="none" stroke-width="1.0" />
<rect x="109.02" y="359.82" width="8.93" height="2.16" fill="#c8102e" stroke="none" stroke-width="1.0" />
<rect x="109.02" y="361.93" width="8.93" height="1.64" fill="#eeaab6" stroke="none" stroke-width="1.0" />
<rect x="109.02" y="363.52" width="8.93" height="2.16" fill="#3c6ea0" stroke="none" stroke-width="1.0" />
<rect x="109.02" y="365.63" width="8.93" height="1.64" fill="#ffffff" stroke="none" stroke-width="1.0" />
<rect x="109.02" y="367.22" width="8.93" height="1.64" fill="#eeaab6" stroke="none" stroke-width="1.0" />
<rect x="109.02" y="368.80" width="8.93" height="5.34" fill="#c8102e" stroke="none" stroke-width="1.0" />
<rect x="109.02" y="374.09" width="8.93" height="1.11" fill="#c4d4e6" stroke="none" stroke-width="1.0" />
<rect x="109.02" y="375.15" width="8.93" height="1.64" fill="#3c6ea0" stroke="none" stroke-width="1.0" />
<rect x="109.02" y="376.73" width="8.93" height="1.64" fill="#c8102e" stroke="none" stroke-width="1.0" />
<rect x="109.02" y="378.32" width="8.93" height="1.64" fill="#f8dde2" stroke="none" stroke-width="1.0" />
<rect x="109.02" y="379.91" width="8.93" height="2.16" fill="#eeaab6" stroke="none" stroke-width="1.0" />
<rect x="109.02" y="382.02" width="8.93" height="6.92" fill="#c8102e" stroke="none" stroke-width="1.0" />
<rect x="109.02" y="388.89" width="8.93" height="1.64" fill="#ffffff" stroke="none" stroke-width="1.0" />
<rect x="109.02" y="390.48" width="8.93" height="1.64" fill="#3c6ea0" stroke="none" stroke-width="1.0" />
<rect x="109.02" y="392.07" width="8.93" height="1.64" fill="#c4d4e6" stroke="none" stroke-width="1.0" />
<rect x="109.02" y="393.65" width="8.93" height="1.64" fill="#7090b8" stroke="none" stroke-width="1.0" />
<rect x="109.02" y="395.24" width="8.93" height="1.64" fill="#c8102e" stroke="none" stroke-width="1.0" />
<rect x="109.02" y="396.83" width="8.93" height="0.92" fill="#eeaab6" stroke="none" stroke-width="1.0" />
<rect x="126.10" y="356.60" width="44.10" height="41.10" fill="#c8102e" stroke="none" stroke-width="1.0" />
<rect x="126.10" y="362.87" width="8.82" height="1.84" fill="#f6d3d9" stroke="none" stroke-width="1.0" />
<rect x="126.10" y="366.67" width="8.82" height="1.95" fill="#1b5690" stroke="none" stroke-width="1.0" />
<rect x="126.10" y="368.97" width="8.82" height="0.80" fill="#f3c4cc" stroke="none" stroke-width="1.0" />
<rect x="126.10" y="370.69" width="8.82" height="1.15" fill="#3b4a86" stroke="none" stroke-width="1.0" />
<rect x="126.10" y="373.56" width="8.82" height="1.95" fill="#fbeef0" stroke="none" stroke-width="1.0" />
<rect x="126.10" y="375.52" width="8.82" height="1.49" fill="#efb2bd" stroke="none" stroke-width="1.0" />
<rect x="126.10" y="377.36" width="8.82" height="0.80" fill="#2d5c94" stroke="none" stroke-width="1.0" />
<rect x="126.10" y="378.16" width="8.82" height="7.47" fill="#1b5690" stroke="none" stroke-width="1.0" />
<rect x="126.10" y="385.63" width="8.82" height="1.72" fill="#c4d4e6" stroke="none" stroke-width="1.0" />
<rect x="126.10" y="387.36" width="8.82" height="1.72" fill="#3a3f78" stroke="none" stroke-width="1.0" />
<rect x="126.10" y="389.66" width="8.82" height="1.15" fill="#ffffff" stroke="none" stroke-width="1.0" />
<rect x="126.10" y="392.53" width="8.82" height="1.72" fill="#f3c4cc" stroke="none" stroke-width="1.0" />
<rect x="126.10" y="394.25" width="8.82" height="1.15" fill="#1b5690" stroke="none" stroke-width="1.0" />
<rect x="126.10" y="395.40" width="8.82" height="1.15" fill="#b3c7dc" stroke="none" stroke-width="1.0" />
<rect x="143.74" y="358.62" width="8.82" height="1.15" fill="#dbe5f0" stroke="none" stroke-width="1.0" />
<rect x="143.74" y="360.92" width="8.82" height="1.72" fill="#f0b3be" stroke="none" stroke-width="1.0" />
<rect x="143.74" y="366.67" width="8.82" height="1.49" fill="#f7dde2" stroke="none" stroke-width="1.0" />
<rect x="143.74" y="368.39" width="8.82" height="1.38" fill="#b3c7dc" stroke="none" stroke-width="1.0" />
<rect x="143.74" y="371.84" width="8.82" height="1.72" fill="#3b4a86" stroke="none" stroke-width="1.0" />
<rect x="143.74" y="374.14" width="8.82" height="1.72" fill="#2d6399" stroke="none" stroke-width="1.0" />
<rect x="143.74" y="385.63" width="8.82" height="1.72" fill="#1b5690" stroke="none" stroke-width="1.0" />
<rect x="143.74" y="387.36" width="8.82" height="1.15" fill="#c4d4e6" stroke="none" stroke-width="1.0" />
<rect x="143.74" y="391.38" width="8.82" height="2.30" fill="#d5e2ef" stroke="none" stroke-width="1.0" />
<rect x="143.74" y="393.68" width="8.82" height="1.72" fill="#1b5690" stroke="none" stroke-width="1.0" />
<rect x="143.74" y="395.40" width="8.82" height="1.15" fill="#c4d4e6" stroke="none" stroke-width="1.0" />
<rect x="161.38" y="380.20" width="8.82" height="1.40" fill="#dbe3ee" stroke="none" stroke-width="1.0" />
<rect x="161.38" y="384.60" width="8.82" height="1.00" fill="#f0b3be" stroke="none" stroke-width="1.0" />
<text x="91.00" y="411.30" font-size="8.4" text-anchor="middle" fill="#333" font-weight="normal" textLength="26.90" lengthAdjust="spacingAndGlyphs" >FOXM1</text>
<text x="51.9" y="421.0" font-size="8.4" fill="#333" textLength="78.5" lengthAdjust="spacingAndGlyphs">(ChEA, <tspan font-style="italic">P</tspan><tspan font-size="5.8" dy="1.8">adj</tspan><tspan dy="-1.8">=6.23E-03)</tspan></text>
<line x1="195.50" y1="317.80" x2="195.50" y2="427.90" stroke="#1a1a1a" stroke-width="1.35" />
<line x1="303.50" y1="317.80" x2="303.50" y2="427.90" stroke="#1a1a1a" stroke-width="1.35" />
<line x1="354.60" y1="317.80" x2="354.60" y2="427.90" stroke="#1a1a1a" stroke-width="1.35" />
<line x1="398.50" y1="317.80" x2="398.50" y2="427.90" stroke="#1a1a1a" stroke-width="1.35" />
<line x1="442.90" y1="317.80" x2="442.90" y2="427.90" stroke="#1a1a1a" stroke-width="1.35" />
<line x1="477.60" y1="317.80" x2="477.60" y2="427.90" stroke="#1a1a1a" stroke-width="1.35" />
<line x1="512.40" y1="317.80" x2="512.40" y2="427.90" stroke="#1a1a1a" stroke-width="1.35" />
<line x1="194.90" y1="318.40" x2="513.00" y2="318.40" stroke="#1a1a1a" stroke-width="1.35" />
<line x1="194.90" y1="345.50" x2="513.00" y2="345.50" stroke="#1a1a1a" stroke-width="1.35" />
<line x1="194.90" y1="372.60" x2="513.00" y2="372.60" stroke="#1a1a1a" stroke-width="1.35" />
<line x1="194.90" y1="399.90" x2="513.00" y2="399.90" stroke="#1a1a1a" stroke-width="1.35" />
<line x1="194.90" y1="427.30" x2="513.00" y2="427.30" stroke="#1a1a1a" stroke-width="1.35" />
<text x="329.30" y="329.60" font-size="8.4" text-anchor="middle" fill="#2a2a2a" font-weight="normal" font-style="italic" textLength="25.20" lengthAdjust="spacingAndGlyphs" >Ex vivo</text>
<text x="329.30" y="338.60" font-size="8.4" text-anchor="middle" fill="#2a2a2a" font-weight="normal" textLength="44.20" lengthAdjust="spacingAndGlyphs" >proliferation</text>
<text x="376.30" y="329.60" font-size="8.4" text-anchor="middle" fill="#2a2a2a" font-weight="normal" textLength="28.00" lengthAdjust="spacingAndGlyphs" >Effector</text>
<text x="376.50" y="338.60" font-size="8.4" text-anchor="middle" fill="#2a2a2a" font-weight="normal" textLength="33.80" lengthAdjust="spacingAndGlyphs" >cytokines</text>
<text x="420.40" y="329.60" font-size="8.4" text-anchor="middle" fill="#2a2a2a" font-weight="normal" textLength="32.20" lengthAdjust="spacingAndGlyphs" >Tex gene</text>
<text x="420.40" y="338.60" font-size="8.4" text-anchor="middle" fill="#2a2a2a" font-weight="normal" textLength="37.20" lengthAdjust="spacingAndGlyphs" >expression</text>
<text x="460.20" y="334.60" font-size="8.4" text-anchor="middle" fill="#2a2a2a" font-weight="normal" font-style="italic" textLength="28.90" lengthAdjust="spacingAndGlyphs" >CXCL13</text>
<text x="494.70" y="329.60" font-size="8.4" text-anchor="middle" fill="#2a2a2a" font-weight="normal" textLength="26.30" lengthAdjust="spacingAndGlyphs" >FOXM1</text>
<text x="494.70" y="338.60" font-size="8.4" text-anchor="middle" fill="#2a2a2a" font-weight="normal" textLength="11.00" lengthAdjust="spacingAndGlyphs" >sig.</text>
<text x="249.60" y="361.50" font-size="9.6" text-anchor="middle" fill="#2c6399" font-weight="normal" textLength="65.40" lengthAdjust="spacingAndGlyphs" >Fully exhausted</text>
<text x="250.00" y="388.60" font-size="9.6" text-anchor="middle" fill="#3db54a" font-weight="normal" textLength="94.50" lengthAdjust="spacingAndGlyphs" >Moderately exhausted</text>
<text x="250.30" y="415.60" font-size="9.6" text-anchor="middle" fill="#c8193e" font-weight="normal" textLength="33.20" lengthAdjust="spacingAndGlyphs" >PD1low</text>
<line x1="326.70" y1="359.40" x2="331.70" y2="359.40" stroke="#1a1a1a" stroke-width="1.4" />
<line x1="374.10" y1="359.40" x2="379.10" y2="359.40" stroke="#1a1a1a" stroke-width="1.4" />
<line x1="417.90" y1="359.40" x2="423.30" y2="359.40" stroke="#1a1a1a" stroke-width="1.5" />
<line x1="420.60" y1="356.60" x2="420.60" y2="362.20" stroke="#1a1a1a" stroke-width="1.5" />
<line x1="457.60" y1="359.40" x2="463.00" y2="359.40" stroke="#1a1a1a" stroke-width="1.5" />
<line x1="460.30" y1="356.60" x2="460.30" y2="362.20" stroke="#1a1a1a" stroke-width="1.5" />
<line x1="492.20" y1="359.40" x2="497.20" y2="359.40" stroke="#1a1a1a" stroke-width="1.4" />
<line x1="326.50" y1="386.30" x2="331.90" y2="386.30" stroke="#1a1a1a" stroke-width="1.5" />
<line x1="329.20" y1="383.50" x2="329.20" y2="389.10" stroke="#1a1a1a" stroke-width="1.5" />
<line x1="373.90" y1="386.30" x2="379.30" y2="386.30" stroke="#1a1a1a" stroke-width="1.5" />
<line x1="376.60" y1="383.50" x2="376.60" y2="389.10" stroke="#1a1a1a" stroke-width="1.5" />
<line x1="417.90" y1="386.30" x2="423.30" y2="386.30" stroke="#1a1a1a" stroke-width="1.5" />
<line x1="420.60" y1="383.50" x2="420.60" y2="389.10" stroke="#1a1a1a" stroke-width="1.5" />
<line x1="457.60" y1="386.30" x2="463.00" y2="386.30" stroke="#1a1a1a" stroke-width="1.5" />
<line x1="460.30" y1="383.50" x2="460.30" y2="389.10" stroke="#1a1a1a" stroke-width="1.5" />
<line x1="492.00" y1="386.30" x2="497.40" y2="386.30" stroke="#1a1a1a" stroke-width="1.5" />
<line x1="494.70" y1="383.50" x2="494.70" y2="389.10" stroke="#1a1a1a" stroke-width="1.5" />
<line x1="323.40" y1="413.40" x2="328.80" y2="413.40" stroke="#1a1a1a" stroke-width="1.5" />
<line x1="326.10" y1="410.60" x2="326.10" y2="416.20" stroke="#1a1a1a" stroke-width="1.5" />
<line x1="329.60" y1="413.40" x2="335.00" y2="413.40" stroke="#1a1a1a" stroke-width="1.5" />
<line x1="332.30" y1="410.60" x2="332.30" y2="416.20" stroke="#1a1a1a" stroke-width="1.5" />
<line x1="373.90" y1="413.40" x2="379.30" y2="413.40" stroke="#1a1a1a" stroke-width="1.5" />
<line x1="376.60" y1="410.60" x2="376.60" y2="416.20" stroke="#1a1a1a" stroke-width="1.5" />
<line x1="418.10" y1="413.40" x2="423.10" y2="413.40" stroke="#1a1a1a" stroke-width="1.4" />
<line x1="457.80" y1="413.40" x2="462.80" y2="413.40" stroke="#1a1a1a" stroke-width="1.4" />
<line x1="488.90" y1="413.40" x2="494.30" y2="413.40" stroke="#1a1a1a" stroke-width="1.5" />
<line x1="491.60" y1="410.60" x2="491.60" y2="416.20" stroke="#1a1a1a" stroke-width="1.5" />
<line x1="495.10" y1="413.40" x2="500.50" y2="413.40" stroke="#1a1a1a" stroke-width="1.5" />
<line x1="497.80" y1="410.60" x2="497.80" y2="416.20" stroke="#1a1a1a" stroke-width="1.5" />
</svg>
</body></html>
